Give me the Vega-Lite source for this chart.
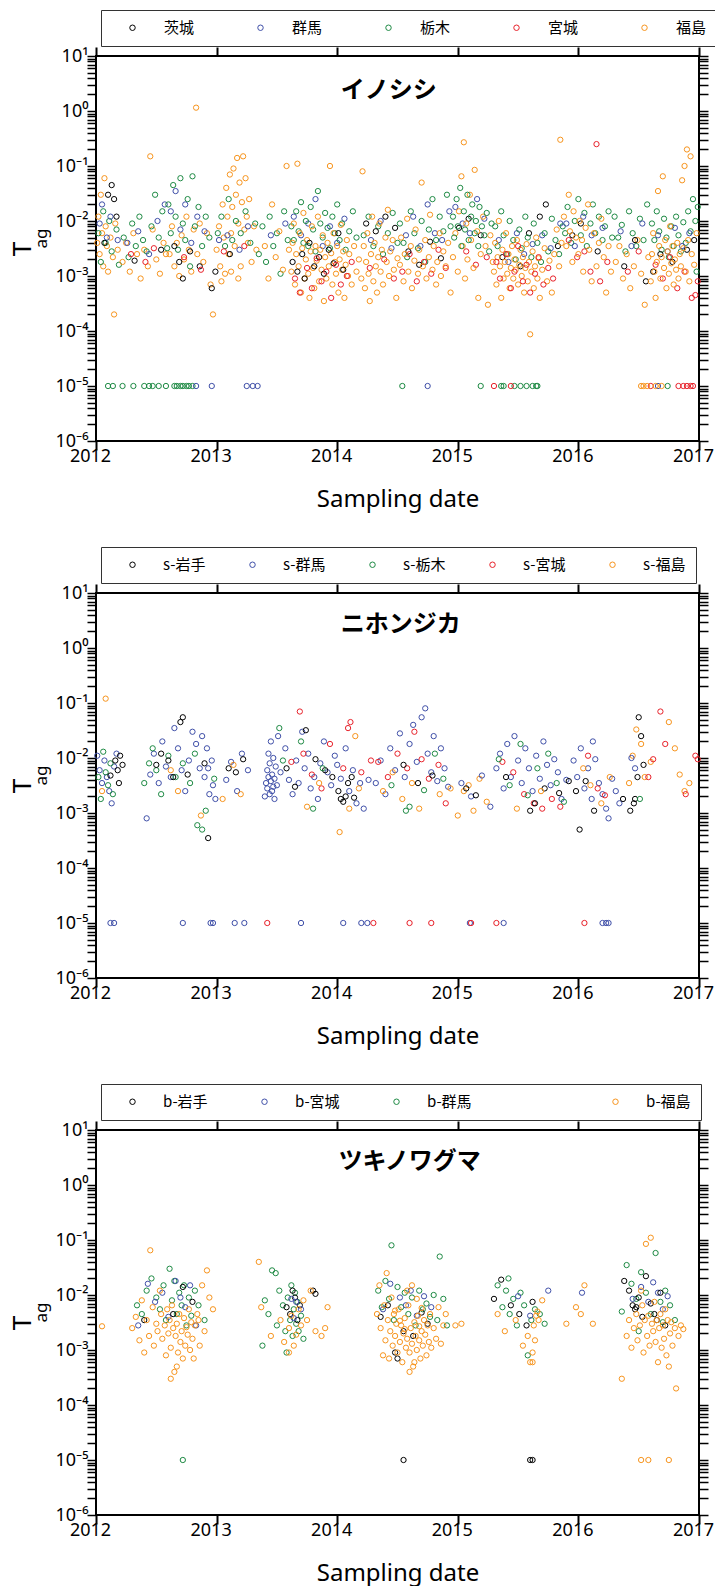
{
"$schema": "https://vega.github.io/schema/vega-lite/v6.json",
"background": "white",
"padding": {"left": 8, "top": 8, "right": 5, "bottom": 5},
"spacing": 33,
"resolve": {"scale": {"color": "independent"}, "legend": {"color": "independent"}},
"config": {
 "view": {"stroke": "black", "strokeWidth": 2},
 "axis": {"domain": false, "grid": false, "tickColor": "black", "labelColor": "black", "labelFont": "Noto Sans", "labelFontSize": 18, "titleFont": "Noto Sans", "titleFontWeight": "normal", "titleColor": "black"},
 "point": {"filled": false, "size": 28, "strokeWidth": 1, "opacity": 1}
},
"datasets": {
"p1": [
{"t":2012.01,"v":0.004,"s":"福島"},{"t":2012.02,"v":0.012,"s":"福島"},{"t":2012.03,"v":0.0025,"s":"福島"},{"t":2012.04,"v":0.03,"s":"福島"},{"t":2012.05,"v":0.006,"s":"福島"},{"t":2012.06,"v":0.0015,"s":"福島"},{"t":2012.07,"v":0.06,"s":"福島"},{"t":2012.08,"v":0.008,"s":"福島"},{"t":2012.09,"v":0.0035,"s":"福島"},{"t":2012.1,"v":0.0012,"s":"福島"},{"t":2012.12,"v":0.005,"s":"福島"},{"t":2012.14,"v":0.0022,"s":"福島"},{"t":2012.16,"v":0.009,"s":"福島"},{"t":2012.18,"v":0.003,"s":"福島"},{"t":2012.15,"v":0.0002,"s":"福島"},
{"t":2012.02,"v":0.006,"s":"栃木"},{"t":2012.04,"v":0.0018,"s":"栃木"},{"t":2012.06,"v":0.015,"s":"栃木"},{"t":2012.08,"v":0.004,"s":"栃木"},{"t":2012.11,"v":0.01,"s":"栃木"},{"t":2012.13,"v":0.0028,"s":"栃木"},{"t":2012.17,"v":0.007,"s":"栃木"},{"t":2012.19,"v":0.0016,"s":"栃木"},
{"t":2012.03,"v":0.009,"s":"群馬"},{"t":2012.05,"v":0.02,"s":"群馬"},{"t":2012.09,"v":0.005,"s":"群馬"},{"t":2012.12,"v":0.012,"s":"群馬"},{"t":2012.18,"v":0.0045,"s":"群馬"},
{"t":2012.1,"v":0.03,"s":"茨城"},{"t":2012.13,"v":0.045,"s":"茨城"},{"t":2012.15,"v":0.025,"s":"茨城"},{"t":2012.17,"v":0.012,"s":"茨城"},{"t":2012.07,"v":0.004,"s":"茨城"},
{"t":2012.22,"v":0.0018,"s":"福島"},{"t":2012.25,"v":0.004,"s":"福島"},{"t":2012.28,"v":0.0012,"s":"福島"},{"t":2012.31,"v":0.006,"s":"福島"},{"t":2012.34,"v":0.0025,"s":"福島"},{"t":2012.37,"v":0.0009,"s":"福島"},{"t":2012.4,"v":0.003,"s":"福島"},{"t":2012.43,"v":0.0015,"s":"福島"},{"t":2012.45,"v":0.15,"s":"福島"},{"t":2012.47,"v":0.007,"s":"福島"},{"t":2012.5,"v":0.002,"s":"福島"},{"t":2012.53,"v":0.0011,"s":"福島"},{"t":2012.56,"v":0.004,"s":"福島"},{"t":2012.58,"v":0.0025,"s":"福島"},
{"t":2012.23,"v":0.005,"s":"栃木"},{"t":2012.27,"v":0.0022,"s":"栃木"},{"t":2012.3,"v":0.009,"s":"栃木"},{"t":2012.33,"v":0.0035,"s":"栃木"},{"t":2012.36,"v":0.012,"s":"栃木"},{"t":2012.39,"v":0.0045,"s":"栃木"},{"t":2012.42,"v":0.0028,"s":"栃木"},{"t":2012.46,"v":0.008,"s":"栃木"},{"t":2012.49,"v":0.03,"s":"栃木"},{"t":2012.52,"v":0.005,"s":"栃木"},{"t":2012.55,"v":0.015,"s":"栃木"},{"t":2012.59,"v":0.0032,"s":"栃木"},
{"t":2012.26,"v":0.004,"s":"群馬"},{"t":2012.35,"v":0.0065,"s":"群馬"},{"t":2012.44,"v":0.0025,"s":"群馬"},{"t":2012.51,"v":0.01,"s":"群馬"},{"t":2012.57,"v":0.02,"s":"群馬"},
{"t":2012.29,"v":0.0025,"s":"宮城"},{"t":2012.41,"v":0.0018,"s":"宮城"},{"t":2012.48,"v":0.0032,"s":"宮城"},
{"t":2012.32,"v":0.0019,"s":"茨城"},{"t":2012.54,"v":0.003,"s":"茨城"},
{"t":2012.61,"v":0.0025,"s":"福島"},{"t":2012.63,"v":0.008,"s":"福島"},{"t":2012.65,"v":0.0015,"s":"福島"},{"t":2012.67,"v":0.004,"s":"福島"},{"t":2012.69,"v":0.001,"s":"福島"},{"t":2012.71,"v":0.0055,"s":"福島"},{"t":2012.73,"v":0.002,"s":"福島"},{"t":2012.75,"v":0.012,"s":"福島"},{"t":2012.77,"v":0.003,"s":"福島"},{"t":2012.79,"v":0.0012,"s":"福島"},{"t":2012.81,"v":0.007,"s":"福島"},{"t":2012.83,"v":1.15,"s":"福島"},{"t":2012.84,"v":0.0025,"s":"福島"},{"t":2012.86,"v":0.009,"s":"福島"},{"t":2012.89,"v":0.0018,"s":"福島"},{"t":2012.92,"v":0.006,"s":"福島"},{"t":2012.95,"v":0.0007,"s":"福島"},{"t":2012.97,"v":0.0002,"s":"福島"},
{"t":2012.6,"v":0.02,"s":"栃木"},{"t":2012.62,"v":0.006,"s":"栃木"},{"t":2012.64,"v":0.045,"s":"栃木"},{"t":2012.66,"v":0.012,"s":"栃木"},{"t":2012.68,"v":0.003,"s":"栃木"},{"t":2012.7,"v":0.06,"s":"栃木"},{"t":2012.72,"v":0.009,"s":"栃木"},{"t":2012.74,"v":0.0045,"s":"栃木"},{"t":2012.76,"v":0.025,"s":"栃木"},{"t":2012.78,"v":0.0015,"s":"栃木"},{"t":2012.8,"v":0.065,"s":"栃木"},{"t":2012.82,"v":0.008,"s":"栃木"},{"t":2012.85,"v":0.018,"s":"栃木"},{"t":2012.88,"v":0.0035,"s":"栃木"},{"t":2012.91,"v":0.012,"s":"栃木"},{"t":2012.94,"v":0.005,"s":"栃木"},
{"t":2012.62,"v":0.015,"s":"群馬"},{"t":2012.66,"v":0.035,"s":"群馬"},{"t":2012.7,"v":0.007,"s":"群馬"},{"t":2012.74,"v":0.02,"s":"群馬"},{"t":2012.79,"v":0.004,"s":"群馬"},{"t":2012.84,"v":0.012,"s":"群馬"},{"t":2012.9,"v":0.0065,"s":"群馬"},
{"t":2012.65,"v":0.0035,"s":"茨城"},{"t":2012.69,"v":0.0018,"s":"茨城"},{"t":2012.72,"v":0.0009,"s":"茨城"},{"t":2012.78,"v":0.0028,"s":"茨城"},{"t":2012.86,"v":0.0015,"s":"茨城"},{"t":2012.96,"v":0.0006,"s":"茨城"},
{"t":2012.73,"v":0.0022,"s":"宮城"},{"t":2012.87,"v":0.0013,"s":"宮城"},
{"t":2013.0,"v":0.003,"s":"福島"},{"t":2013.02,"v":0.008,"s":"福島"},{"t":2013.03,"v":0.0015,"s":"福島"},{"t":2013.05,"v":0.02,"s":"福島"},{"t":2013.06,"v":0.005,"s":"福島"},{"t":2013.07,"v":0.0011,"s":"福島"},{"t":2013.08,"v":0.04,"s":"福島"},{"t":2013.09,"v":0.012,"s":"福島"},{"t":2013.1,"v":0.0025,"s":"福島"},{"t":2013.11,"v":0.07,"s":"福島"},{"t":2013.12,"v":0.006,"s":"福島"},{"t":2013.13,"v":0.018,"s":"福島"},{"t":2013.14,"v":0.09,"s":"福島"},{"t":2013.15,"v":0.0035,"s":"福島"},{"t":2013.16,"v":0.03,"s":"福島"},{"t":2013.17,"v":0.14,"s":"福島"},{"t":2013.18,"v":0.009,"s":"福島"},{"t":2013.19,"v":0.05,"s":"福島"},{"t":2013.2,"v":0.0015,"s":"福島"},{"t":2013.21,"v":0.022,"s":"福島"},{"t":2013.22,"v":0.15,"s":"福島"},{"t":2013.23,"v":0.007,"s":"福島"},{"t":2013.24,"v":0.06,"s":"福島"},{"t":2013.25,"v":0.012,"s":"福島"},{"t":2013.26,"v":0.004,"s":"福島"},{"t":2013.27,"v":0.025,"s":"福島"},{"t":2013.29,"v":0.0018,"s":"福島"},{"t":2013.31,"v":0.008,"s":"福島"},{"t":2013.33,"v":0.003,"s":"福島"},{"t":2013.04,"v":0.0008,"s":"福島"},{"t":2013.12,"v":0.0012,"s":"福島"},{"t":2013.18,"v":0.0009,"s":"福島"},
{"t":2013.01,"v":0.006,"s":"栃木"},{"t":2013.04,"v":0.012,"s":"栃木"},{"t":2013.07,"v":0.0035,"s":"栃木"},{"t":2013.1,"v":0.025,"s":"栃木"},{"t":2013.13,"v":0.0045,"s":"栃木"},{"t":2013.16,"v":0.01,"s":"栃木"},{"t":2013.2,"v":0.006,"s":"栃木"},{"t":2013.24,"v":0.015,"s":"栃木"},{"t":2013.28,"v":0.004,"s":"栃木"},{"t":2013.32,"v":0.009,"s":"栃木"},{"t":2013.35,"v":0.0025,"s":"栃木"},
{"t":2013.02,"v":0.0045,"s":"群馬"},{"t":2013.09,"v":0.0055,"s":"群馬"},{"t":2013.19,"v":0.003,"s":"群馬"},{"t":2013.26,"v":0.008,"s":"群馬"},
{"t":2013.06,"v":0.0028,"s":"宮城"},{"t":2013.23,"v":0.0035,"s":"宮城"},
{"t":2012.99,"v":0.0012,"s":"茨城"},{"t":2013.11,"v":0.0025,"s":"茨城"},
{"t":2013.38,"v":0.008,"s":"栃木"},{"t":2013.41,"v":0.0018,"s":"栃木"},{"t":2013.44,"v":0.012,"s":"栃木"},{"t":2013.47,"v":0.0035,"s":"栃木"},{"t":2013.5,"v":0.006,"s":"栃木"},{"t":2013.53,"v":0.0011,"s":"栃木"},{"t":2013.56,"v":0.015,"s":"栃木"},{"t":2013.59,"v":0.0045,"s":"栃木"},
{"t":2013.4,"v":0.0035,"s":"福島"},{"t":2013.43,"v":0.0009,"s":"福島"},{"t":2013.46,"v":0.02,"s":"福島"},{"t":2013.49,"v":0.0022,"s":"福島"},{"t":2013.52,"v":0.0065,"s":"福島"},{"t":2013.55,"v":0.0013,"s":"福島"},{"t":2013.58,"v":0.1,"s":"福島"},{"t":2013.6,"v":0.003,"s":"福島"},
{"t":2013.45,"v":0.0055,"s":"群馬"},{"t":2013.57,"v":0.009,"s":"群馬"},
{"t":2013.64,"v":0.012,"s":"群馬"},{"t":2013.7,"v":0.0055,"s":"群馬"},{"t":2013.76,"v":0.009,"s":"群馬"},{"t":2013.82,"v":0.025,"s":"群馬"},{"t":2013.88,"v":0.0035,"s":"群馬"},{"t":2013.94,"v":0.008,"s":"群馬"},{"t":2014.0,"v":0.004,"s":"群馬"},{"t":2014.06,"v":0.011,"s":"群馬"},
{"t":2013.62,"v":0.008,"s":"栃木"},{"t":2013.64,"v":0.0045,"s":"栃木"},{"t":2013.66,"v":0.015,"s":"栃木"},{"t":2013.68,"v":0.0065,"s":"栃木"},{"t":2013.7,"v":0.022,"s":"栃木"},{"t":2013.72,"v":0.004,"s":"栃木"},{"t":2013.74,"v":0.01,"s":"栃木"},{"t":2013.76,"v":0.0035,"s":"栃木"},{"t":2013.78,"v":0.018,"s":"栃木"},{"t":2013.8,"v":0.007,"s":"栃木"},{"t":2013.82,"v":0.0028,"s":"栃木"},{"t":2013.84,"v":0.035,"s":"栃木"},{"t":2013.86,"v":0.009,"s":"栃木"},{"t":2013.88,"v":0.005,"s":"栃木"},{"t":2013.9,"v":0.014,"s":"栃木"},{"t":2013.92,"v":0.0075,"s":"栃木"},{"t":2013.94,"v":0.0032,"s":"栃木"},{"t":2013.96,"v":0.012,"s":"栃木"},{"t":2013.98,"v":0.006,"s":"栃木"},{"t":2014.0,"v":0.02,"s":"栃木"},{"t":2014.02,"v":0.0045,"s":"栃木"},{"t":2014.04,"v":0.009,"s":"栃木"},{"t":2014.07,"v":0.003,"s":"栃木"},{"t":2014.1,"v":0.0065,"s":"栃木"},{"t":2014.13,"v":0.015,"s":"栃木"},{"t":2014.16,"v":0.005,"s":"栃木"},
{"t":2013.62,"v":0.0012,"s":"福島"},{"t":2013.63,"v":0.004,"s":"福島"},{"t":2013.64,"v":0.009,"s":"福島"},{"t":2013.65,"v":0.0007,"s":"福島"},{"t":2013.66,"v":0.0025,"s":"福島"},{"t":2013.67,"v":0.11,"s":"福島"},{"t":2013.68,"v":0.0015,"s":"福島"},{"t":2013.69,"v":0.006,"s":"福島"},{"t":2013.7,"v":0.0005,"s":"福島"},{"t":2013.71,"v":0.0032,"s":"福島"},{"t":2013.72,"v":0.014,"s":"福島"},{"t":2013.73,"v":0.0009,"s":"福島"},{"t":2013.74,"v":0.002,"s":"福島"},{"t":2013.75,"v":0.0045,"s":"福島"},{"t":2013.76,"v":0.0011,"s":"福島"},{"t":2013.77,"v":0.0004,"s":"福島"},{"t":2013.78,"v":0.0028,"s":"福島"},{"t":2013.79,"v":0.008,"s":"福島"},{"t":2013.8,"v":0.0014,"s":"福島"},{"t":2013.81,"v":0.0006,"s":"福島"},{"t":2013.82,"v":0.0035,"s":"福島"},{"t":2013.83,"v":0.0019,"s":"福島"},{"t":2013.84,"v":0.012,"s":"福島"},{"t":2013.85,"v":0.0008,"s":"福島"},{"t":2013.86,"v":0.003,"s":"福島"},{"t":2013.87,"v":0.0013,"s":"福島"},{"t":2013.88,"v":0.0055,"s":"福島"},{"t":2013.89,"v":0.00035,"s":"福島"},{"t":2013.9,"v":0.0022,"s":"福島"},{"t":2013.91,"v":0.0009,"s":"福島"},{"t":2013.92,"v":0.004,"s":"福島"},{"t":2013.93,"v":0.0015,"s":"福島"},{"t":2013.94,"v":0.1,"s":"福島"},{"t":2013.95,"v":0.0026,"s":"福島"},{"t":2013.96,"v":0.0007,"s":"福島"},{"t":2013.97,"v":0.006,"s":"福島"},{"t":2013.98,"v":0.0018,"s":"福島"},{"t":2013.99,"v":0.0011,"s":"福島"},{"t":2014.0,"v":0.0035,"s":"福島"},{"t":2014.01,"v":0.0005,"s":"福島"},{"t":2014.02,"v":0.002,"s":"福島"},{"t":2014.03,"v":0.0085,"s":"福島"},{"t":2014.04,"v":0.0013,"s":"福島"},{"t":2014.05,"v":0.0028,"s":"福島"},{"t":2014.06,"v":0.0004,"s":"福島"},{"t":2014.07,"v":0.0016,"s":"福島"},{"t":2014.08,"v":0.0045,"s":"福島"},{"t":2014.09,"v":0.001,"s":"福島"},{"t":2014.1,"v":0.0025,"s":"福島"},{"t":2014.12,"v":0.0007,"s":"福島"},{"t":2014.14,"v":0.0035,"s":"福島"},{"t":2014.16,"v":0.0012,"s":"福島"},{"t":2014.18,"v":0.002,"s":"福島"},
{"t":2013.63,"v":0.0018,"s":"茨城"},{"t":2013.67,"v":0.0012,"s":"茨城"},{"t":2013.71,"v":0.0025,"s":"茨城"},{"t":2013.73,"v":0.0009,"s":"茨城"},{"t":2013.77,"v":0.004,"s":"茨城"},{"t":2013.81,"v":0.0015,"s":"茨城"},{"t":2013.85,"v":0.0022,"s":"茨城"},{"t":2013.89,"v":0.0011,"s":"茨城"},{"t":2013.93,"v":0.003,"s":"茨城"},{"t":2013.97,"v":0.0017,"s":"茨城"},{"t":2014.01,"v":0.006,"s":"茨城"},{"t":2014.05,"v":0.0013,"s":"茨城"},
{"t":2013.65,"v":0.0009,"s":"宮城"},{"t":2013.69,"v":0.0005,"s":"宮城"},{"t":2013.75,"v":0.0014,"s":"宮城"},{"t":2013.79,"v":0.0006,"s":"宮城"},{"t":2013.83,"v":0.0021,"s":"宮城"},{"t":2013.87,"v":0.0008,"s":"宮城"},{"t":2013.91,"v":0.0012,"s":"宮城"},{"t":2013.95,"v":0.0004,"s":"宮城"},{"t":2013.99,"v":0.0016,"s":"宮城"},{"t":2014.03,"v":0.0007,"s":"宮城"},{"t":2014.08,"v":0.001,"s":"宮城"},{"t":2014.12,"v":0.0018,"s":"宮城"},
{"t":2014.22,"v":0.0055,"s":"栃木"},{"t":2014.26,"v":0.012,"s":"栃木"},{"t":2014.3,"v":0.0035,"s":"栃木"},{"t":2014.34,"v":0.008,"s":"栃木"},{"t":2014.38,"v":0.0025,"s":"栃木"},{"t":2014.42,"v":0.006,"s":"栃木"},{"t":2014.46,"v":0.014,"s":"栃木"},{"t":2014.5,"v":0.004,"s":"栃木"},
{"t":2014.24,"v":0.009,"s":"茨城"},{"t":2014.32,"v":0.0065,"s":"茨城"},{"t":2014.4,"v":0.012,"s":"茨城"},{"t":2014.48,"v":0.0075,"s":"茨城"},
{"t":2014.28,"v":0.0045,"s":"群馬"},{"t":2014.36,"v":0.01,"s":"群馬"},{"t":2014.45,"v":0.0032,"s":"群馬"},
{"t":2014.27,"v":0.0014,"s":"宮城"},{"t":2014.39,"v":0.002,"s":"宮城"},{"t":2014.47,"v":0.0009,"s":"宮城"},
{"t":2014.2,"v":0.0009,"s":"福島"},{"t":2014.21,"v":0.08,"s":"福島"},{"t":2014.22,"v":0.0035,"s":"福島"},{"t":2014.23,"v":0.0006,"s":"福島"},{"t":2014.24,"v":0.0018,"s":"福島"},{"t":2014.25,"v":0.006,"s":"福島"},{"t":2014.26,"v":0.0011,"s":"福島"},{"t":2014.27,"v":0.00035,"s":"福島"},{"t":2014.28,"v":0.0025,"s":"福島"},{"t":2014.29,"v":0.012,"s":"福島"},{"t":2014.3,"v":0.0008,"s":"福島"},{"t":2014.31,"v":0.004,"s":"福島"},{"t":2014.32,"v":0.0015,"s":"福島"},{"t":2014.33,"v":0.0005,"s":"福島"},{"t":2014.34,"v":0.0022,"s":"福島"},{"t":2014.35,"v":0.009,"s":"福島"},{"t":2014.36,"v":0.0012,"s":"福島"},{"t":2014.37,"v":0.003,"s":"福島"},{"t":2014.38,"v":0.0007,"s":"福島"},{"t":2014.4,"v":0.005,"s":"福島"},{"t":2014.41,"v":0.0018,"s":"福島"},{"t":2014.42,"v":0.016,"s":"福島"},{"t":2014.43,"v":0.001,"s":"福島"},{"t":2014.44,"v":0.0028,"s":"福島"},{"t":2014.46,"v":0.0045,"s":"福島"},{"t":2014.47,"v":0.0013,"s":"福島"},{"t":2014.49,"v":0.0004,"s":"福島"},{"t":2014.5,"v":0.0021,"s":"福島"},
{"t":2014.52,"v":0.009,"s":"栃木"},{"t":2014.55,"v":0.004,"s":"栃木"},{"t":2014.58,"v":0.0022,"s":"栃木"},{"t":2014.61,"v":0.015,"s":"栃木"},{"t":2014.64,"v":0.006,"s":"栃木"},{"t":2014.67,"v":0.0032,"s":"栃木"},{"t":2014.7,"v":0.01,"s":"栃木"},{"t":2014.73,"v":0.0018,"s":"栃木"},{"t":2014.76,"v":0.007,"s":"栃木"},{"t":2014.79,"v":0.025,"s":"栃木"},{"t":2014.82,"v":0.0045,"s":"栃木"},{"t":2014.85,"v":0.012,"s":"栃木"},{"t":2014.88,"v":0.0065,"s":"栃木"},{"t":2014.91,"v":0.03,"s":"栃木"},{"t":2014.94,"v":0.008,"s":"栃木"},
{"t":2014.54,"v":0.0012,"s":"宮城"},{"t":2014.6,"v":0.0025,"s":"宮城"},{"t":2014.66,"v":0.0008,"s":"宮城"},{"t":2014.72,"v":0.0018,"s":"宮城"},{"t":2014.78,"v":0.0011,"s":"宮城"},{"t":2014.84,"v":0.003,"s":"宮城"},{"t":2014.9,"v":0.0014,"s":"宮城"},
{"t":2014.57,"v":0.0055,"s":"群馬"},{"t":2014.63,"v":0.012,"s":"群馬"},{"t":2014.69,"v":0.0035,"s":"群馬"},{"t":2014.75,"v":0.02,"s":"群馬"},{"t":2014.81,"v":0.006,"s":"群馬"},{"t":2014.87,"v":0.0045,"s":"群馬"},{"t":2014.93,"v":0.015,"s":"群馬"},
{"t":2014.59,"v":0.0028,"s":"茨城"},{"t":2014.68,"v":0.0016,"s":"茨城"},{"t":2014.77,"v":0.0042,"s":"茨城"},{"t":2014.86,"v":0.0021,"s":"茨城"},
{"t":2014.52,"v":0.0016,"s":"福島"},{"t":2014.53,"v":0.005,"s":"福島"},{"t":2014.55,"v":0.0008,"s":"福島"},{"t":2014.56,"v":0.0025,"s":"福島"},{"t":2014.58,"v":0.011,"s":"福島"},{"t":2014.59,"v":0.0012,"s":"福島"},{"t":2014.61,"v":0.0035,"s":"福島"},{"t":2014.62,"v":0.0006,"s":"福島"},{"t":2014.64,"v":0.0019,"s":"福島"},{"t":2014.65,"v":0.007,"s":"福島"},{"t":2014.67,"v":0.0011,"s":"福島"},{"t":2014.68,"v":0.003,"s":"福島"},{"t":2014.7,"v":0.05,"s":"福島"},{"t":2014.71,"v":0.0015,"s":"福島"},{"t":2014.73,"v":0.0045,"s":"福島"},{"t":2014.74,"v":0.0009,"s":"福島"},{"t":2014.76,"v":0.0022,"s":"福島"},{"t":2014.77,"v":0.013,"s":"福島"},{"t":2014.79,"v":0.0013,"s":"福島"},{"t":2014.8,"v":0.0035,"s":"福島"},{"t":2014.82,"v":0.0007,"s":"福島"},{"t":2014.83,"v":0.0018,"s":"福島"},{"t":2014.85,"v":0.006,"s":"福島"},{"t":2014.86,"v":0.001,"s":"福島"},{"t":2014.88,"v":0.0028,"s":"福島"},{"t":2014.9,"v":0.0015,"s":"福島"},{"t":2014.92,"v":0.004,"s":"福島"},{"t":2014.94,"v":0.0005,"s":"福島"},
{"t":2014.98,"v":0.018,"s":"群馬"},{"t":2015.04,"v":0.009,"s":"群馬"},{"t":2015.1,"v":0.006,"s":"群馬"},{"t":2015.16,"v":0.025,"s":"群馬"},{"t":2015.22,"v":0.011,"s":"群馬"},
{"t":2015.01,"v":0.0075,"s":"茨城"},{"t":2015.09,"v":0.011,"s":"茨城"},{"t":2015.19,"v":0.0055,"s":"茨城"},
{"t":2015.07,"v":0.0028,"s":"宮城"},{"t":2015.15,"v":0.0016,"s":"宮城"},{"t":2015.24,"v":0.0022,"s":"宮城"},
{"t":2014.96,"v":0.0022,"s":"福島"},{"t":2014.98,"v":0.006,"s":"福島"},{"t":2015.0,"v":0.0012,"s":"福島"},{"t":2015.01,"v":0.015,"s":"福島"},{"t":2015.03,"v":0.065,"s":"福島"},{"t":2015.04,"v":0.0035,"s":"福島"},{"t":2015.05,"v":0.27,"s":"福島"},{"t":2015.06,"v":0.0009,"s":"福島"},{"t":2015.07,"v":0.009,"s":"福島"},{"t":2015.08,"v":0.002,"s":"福島"},{"t":2015.1,"v":0.03,"s":"福島"},{"t":2015.11,"v":0.0045,"s":"福島"},{"t":2015.13,"v":0.0014,"s":"福島"},{"t":2015.14,"v":0.085,"s":"福島"},{"t":2015.16,"v":0.0065,"s":"福島"},{"t":2015.17,"v":0.0004,"s":"福島"},{"t":2015.19,"v":0.0025,"s":"福島"},{"t":2015.21,"v":0.012,"s":"福島"},{"t":2015.23,"v":0.0035,"s":"福島"},{"t":2015.25,"v":0.0003,"s":"福島"},{"t":2015.27,"v":0.0055,"s":"福島"},{"t":2015.29,"v":0.0018,"s":"福島"},
{"t":2014.96,"v":0.012,"s":"栃木"},{"t":2014.97,"v":0.005,"s":"栃木"},{"t":2014.99,"v":0.025,"s":"栃木"},{"t":2015.0,"v":0.008,"s":"栃木"},{"t":2015.02,"v":0.04,"s":"栃木"},{"t":2015.03,"v":0.0035,"s":"栃木"},{"t":2015.05,"v":0.015,"s":"栃木"},{"t":2015.06,"v":0.007,"s":"栃木"},{"t":2015.08,"v":0.03,"s":"栃木"},{"t":2015.09,"v":0.0045,"s":"栃木"},{"t":2015.11,"v":0.012,"s":"栃木"},{"t":2015.12,"v":0.02,"s":"栃木"},{"t":2015.14,"v":0.006,"s":"栃木"},{"t":2015.15,"v":0.01,"s":"栃木"},{"t":2015.17,"v":0.0035,"s":"栃木"},{"t":2015.18,"v":0.018,"s":"栃木"},{"t":2015.2,"v":0.008,"s":"栃木"},{"t":2015.22,"v":0.0055,"s":"栃木"},{"t":2015.24,"v":0.014,"s":"栃木"},{"t":2015.26,"v":0.0028,"s":"栃木"},{"t":2015.28,"v":0.009,"s":"栃木"},
{"t":2015.34,"v":0.0045,"s":"群馬"},{"t":2015.42,"v":0.0018,"s":"群馬"},{"t":2015.49,"v":0.006,"s":"群馬"},{"t":2015.55,"v":0.0025,"s":"群馬"},{"t":2015.62,"v":0.0038,"s":"群馬"},{"t":2015.7,"v":0.0055,"s":"群馬"},{"t":2015.77,"v":0.0032,"s":"群馬"},{"t":2015.85,"v":0.009,"s":"群馬"},
{"t":2015.37,"v":0.0022,"s":"茨城"},{"t":2015.52,"v":0.0015,"s":"茨城"},{"t":2015.59,"v":0.006,"s":"茨城"},{"t":2015.68,"v":0.012,"s":"茨城"},{"t":2015.73,"v":0.02,"s":"茨城"},{"t":2015.83,"v":0.0035,"s":"茨城"},
{"t":2015.31,"v":0.008,"s":"栃木"},{"t":2015.33,"v":0.0035,"s":"栃木"},{"t":2015.36,"v":0.015,"s":"栃木"},{"t":2015.38,"v":0.0055,"s":"栃木"},{"t":2015.41,"v":0.0025,"s":"栃木"},{"t":2015.43,"v":0.01,"s":"栃木"},{"t":2015.46,"v":0.0045,"s":"栃木"},{"t":2015.48,"v":0.002,"s":"栃木"},{"t":2015.51,"v":0.007,"s":"栃木"},{"t":2015.53,"v":0.0032,"s":"栃木"},{"t":2015.56,"v":0.012,"s":"栃木"},{"t":2015.58,"v":0.005,"s":"栃木"},{"t":2015.61,"v":0.0022,"s":"栃木"},{"t":2015.63,"v":0.009,"s":"栃木"},{"t":2015.66,"v":0.004,"s":"栃木"},{"t":2015.69,"v":0.0018,"s":"栃木"},{"t":2015.72,"v":0.006,"s":"栃木"},{"t":2015.75,"v":0.0028,"s":"栃木"},{"t":2015.78,"v":0.011,"s":"栃木"},{"t":2015.81,"v":0.0045,"s":"栃木"},{"t":2015.84,"v":0.0025,"s":"栃木"},{"t":2015.87,"v":0.008,"s":"栃木"},
{"t":2015.3,"v":0.0012,"s":"福島"},{"t":2015.31,"v":0.004,"s":"福島"},{"t":2015.32,"v":0.0007,"s":"福島"},{"t":2015.33,"v":0.0022,"s":"福島"},{"t":2015.34,"v":0.01,"s":"福島"},{"t":2015.35,"v":0.0015,"s":"福島"},{"t":2015.36,"v":0.0004,"s":"福島"},{"t":2015.37,"v":0.003,"s":"福島"},{"t":2015.38,"v":0.0009,"s":"福島"},{"t":2015.39,"v":0.0018,"s":"福島"},{"t":2015.4,"v":0.006,"s":"福島"},{"t":2015.41,"v":0.0011,"s":"福島"},{"t":2015.42,"v":0.0025,"s":"福島"},{"t":2015.43,"v":0.0006,"s":"福島"},{"t":2015.44,"v":0.0014,"s":"福島"},{"t":2015.45,"v":0.0035,"s":"福島"},{"t":2015.46,"v":0.0009,"s":"福島"},{"t":2015.47,"v":0.002,"s":"福島"},{"t":2015.48,"v":0.0013,"s":"福島"},{"t":2015.49,"v":0.0045,"s":"福島"},{"t":2015.5,"v":0.0007,"s":"福島"},{"t":2015.51,"v":0.0016,"s":"福島"},{"t":2015.52,"v":0.003,"s":"福島"},{"t":2015.53,"v":0.001,"s":"福島"},{"t":2015.54,"v":0.0022,"s":"福島"},{"t":2015.55,"v":0.0005,"s":"福島"},{"t":2015.56,"v":0.0014,"s":"福島"},{"t":2015.57,"v":0.0038,"s":"福島"},{"t":2015.58,"v":0.0008,"s":"福島"},{"t":2015.59,"v":0.0018,"s":"福島"},{"t":2015.6,"v":0.000087,"s":"福島"},{"t":2015.61,"v":0.0012,"s":"福島"},{"t":2015.62,"v":0.0028,"s":"福島"},{"t":2015.63,"v":0.0006,"s":"福島"},{"t":2015.64,"v":0.0015,"s":"福島"},{"t":2015.65,"v":0.005,"s":"福島"},{"t":2015.66,"v":0.0009,"s":"福島"},{"t":2015.67,"v":0.0021,"s":"福島"},{"t":2015.68,"v":0.0004,"s":"福島"},{"t":2015.7,"v":0.0013,"s":"福島"},{"t":2015.72,"v":0.0032,"s":"福島"},{"t":2015.74,"v":0.0008,"s":"福島"},{"t":2015.76,"v":0.0019,"s":"福島"},{"t":2015.78,"v":0.0005,"s":"福島"},{"t":2015.8,"v":0.0025,"s":"福島"},{"t":2015.82,"v":0.007,"s":"福島"},{"t":2015.84,"v":0.0015,"s":"福島"},{"t":2015.86,"v":0.004,"s":"福島"},
{"t":2015.32,"v":0.0018,"s":"宮城"},{"t":2015.35,"v":0.0009,"s":"宮城"},{"t":2015.4,"v":0.0025,"s":"宮城"},{"t":2015.44,"v":0.0006,"s":"宮城"},{"t":2015.47,"v":0.0012,"s":"宮城"},{"t":2015.5,"v":0.0035,"s":"宮城"},{"t":2015.54,"v":0.0008,"s":"宮城"},{"t":2015.57,"v":0.0016,"s":"宮城"},{"t":2015.6,"v":0.0005,"s":"宮城"},{"t":2015.64,"v":0.0011,"s":"宮城"},{"t":2015.67,"v":0.0022,"s":"宮城"},{"t":2015.71,"v":0.0007,"s":"宮城"},{"t":2015.75,"v":0.0014,"s":"宮城"},{"t":2015.79,"v":0.0009,"s":"宮城"},
{"t":2015.89,"v":0.006,"s":"栃木"},{"t":2015.91,"v":0.018,"s":"栃木"},{"t":2015.94,"v":0.004,"s":"栃木"},{"t":2015.97,"v":0.01,"s":"栃木"},{"t":2016.0,"v":0.025,"s":"栃木"},{"t":2016.02,"v":0.0055,"s":"栃木"},{"t":2016.05,"v":0.014,"s":"栃木"},{"t":2016.07,"v":0.0035,"s":"栃木"},{"t":2016.1,"v":0.009,"s":"栃木"},{"t":2016.12,"v":0.02,"s":"栃木"},{"t":2016.14,"v":0.006,"s":"栃木"},{"t":2016.17,"v":0.012,"s":"栃木"},{"t":2016.2,"v":0.0045,"s":"栃木"},{"t":2016.22,"v":0.008,"s":"栃木"},{"t":2016.25,"v":0.015,"s":"栃木"},{"t":2016.28,"v":0.005,"s":"栃木"},
{"t":2015.92,"v":0.0045,"s":"宮城"},{"t":2015.99,"v":0.0022,"s":"宮城"},{"t":2016.05,"v":0.0028,"s":"宮城"},{"t":2016.1,"v":0.0012,"s":"宮城"},{"t":2016.15,"v":0.25,"s":"宮城"},{"t":2016.18,"v":0.0008,"s":"宮城"},{"t":2016.24,"v":0.0018,"s":"宮城"},
{"t":2015.9,"v":0.009,"s":"群馬"},{"t":2015.97,"v":0.0035,"s":"群馬"},{"t":2016.04,"v":0.012,"s":"群馬"},{"t":2016.11,"v":0.0055,"s":"群馬"},{"t":2016.2,"v":0.0075,"s":"群馬"},
{"t":2015.95,"v":0.0055,"s":"茨城"},{"t":2016.02,"v":0.009,"s":"茨城"},{"t":2016.16,"v":0.0028,"s":"茨城"},
{"t":2015.85,"v":0.3,"s":"福島"},{"t":2015.88,"v":0.012,"s":"福島"},{"t":2015.9,"v":0.0035,"s":"福島"},{"t":2015.92,"v":0.03,"s":"福島"},{"t":2015.93,"v":0.0065,"s":"福島"},{"t":2015.95,"v":0.0018,"s":"福島"},{"t":2015.96,"v":0.015,"s":"福島"},{"t":2015.98,"v":0.005,"s":"福島"},{"t":2016.0,"v":0.0025,"s":"福島"},{"t":2016.01,"v":0.01,"s":"福島"},{"t":2016.03,"v":0.0045,"s":"福島"},{"t":2016.04,"v":0.0012,"s":"福島"},{"t":2016.06,"v":0.0075,"s":"福島"},{"t":2016.08,"v":0.02,"s":"福島"},{"t":2016.09,"v":0.003,"s":"福島"},{"t":2016.11,"v":0.0008,"s":"福島"},{"t":2016.13,"v":0.006,"s":"福島"},{"t":2016.15,"v":0.0015,"s":"福島"},{"t":2016.17,"v":0.004,"s":"福島"},{"t":2016.19,"v":0.011,"s":"福島"},{"t":2016.21,"v":0.0022,"s":"福島"},{"t":2016.23,"v":0.0005,"s":"福島"},{"t":2016.25,"v":0.0035,"s":"福島"},{"t":2016.27,"v":0.0012,"s":"福島"},
{"t":2016.3,"v":0.012,"s":"栃木"},{"t":2016.33,"v":0.005,"s":"栃木"},{"t":2016.36,"v":0.0085,"s":"栃木"},{"t":2016.39,"v":0.0028,"s":"栃木"},{"t":2016.42,"v":0.015,"s":"栃木"},{"t":2016.45,"v":0.006,"s":"栃木"},{"t":2016.48,"v":0.0035,"s":"栃木"},{"t":2016.51,"v":0.011,"s":"栃木"},{"t":2016.54,"v":0.0045,"s":"栃木"},{"t":2016.57,"v":0.02,"s":"栃木"},
{"t":2016.31,"v":0.0018,"s":"福島"},{"t":2016.34,"v":0.0035,"s":"福島"},{"t":2016.37,"v":0.0009,"s":"福島"},{"t":2016.4,"v":0.0025,"s":"福島"},{"t":2016.43,"v":0.0006,"s":"福島"},{"t":2016.46,"v":0.0015,"s":"福島"},{"t":2016.49,"v":0.0045,"s":"福島"},{"t":2016.52,"v":0.0011,"s":"福島"},{"t":2016.55,"v":0.0003,"s":"福島"},{"t":2016.58,"v":0.0022,"s":"福島"},
{"t":2016.35,"v":0.0065,"s":"群馬"},{"t":2016.44,"v":0.0035,"s":"群馬"},{"t":2016.53,"v":0.009,"s":"群馬"},
{"t":2016.38,"v":0.0015,"s":"茨城"},{"t":2016.47,"v":0.0045,"s":"茨城"},{"t":2016.56,"v":0.0008,"s":"茨城"},
{"t":2016.41,"v":0.0012,"s":"宮城"},{"t":2016.5,"v":0.0028,"s":"宮城"},
{"t":2016.61,"v":0.009,"s":"栃木"},{"t":2016.63,"v":0.0045,"s":"栃木"},{"t":2016.65,"v":0.015,"s":"栃木"},{"t":2016.67,"v":0.0065,"s":"栃木"},{"t":2016.69,"v":0.003,"s":"栃木"},{"t":2016.71,"v":0.011,"s":"栃木"},{"t":2016.73,"v":0.005,"s":"栃木"},{"t":2016.75,"v":0.0022,"s":"栃木"},{"t":2016.77,"v":0.008,"s":"栃木"},{"t":2016.79,"v":0.0035,"s":"栃木"},{"t":2016.81,"v":0.012,"s":"栃木"},{"t":2016.83,"v":0.0055,"s":"栃木"},{"t":2016.85,"v":0.0028,"s":"栃木"},{"t":2016.87,"v":0.0095,"s":"栃木"},{"t":2016.89,"v":0.004,"s":"栃木"},{"t":2016.91,"v":0.015,"s":"栃木"},{"t":2016.93,"v":0.0065,"s":"栃木"},{"t":2016.95,"v":0.025,"s":"栃木"},{"t":2016.97,"v":0.01,"s":"栃木"},{"t":2016.99,"v":0.018,"s":"栃木"},{"t":2016.98,"v":0.0012,"s":"栃木"},
{"t":2016.64,"v":0.0016,"s":"宮城"},{"t":2016.7,"v":0.0009,"s":"宮城"},{"t":2016.76,"v":0.0022,"s":"宮城"},{"t":2016.82,"v":0.0006,"s":"宮城"},{"t":2016.88,"v":0.0012,"s":"宮城"},{"t":2016.94,"v":0.0004,"s":"宮城"},{"t":2016.97,"v":0.00045,"s":"宮城"},{"t":2016.99,"v":0.0008,"s":"宮城"},
{"t":2016.66,"v":0.0055,"s":"群馬"},{"t":2016.74,"v":0.0028,"s":"群馬"},{"t":2016.8,"v":0.0075,"s":"群馬"},{"t":2016.86,"v":0.0035,"s":"群馬"},{"t":2016.92,"v":0.006,"s":"群馬"},
{"t":2016.62,"v":0.0012,"s":"茨城"},{"t":2016.68,"v":0.0025,"s":"茨城"},{"t":2016.78,"v":0.0018,"s":"茨城"},{"t":2016.9,"v":0.003,"s":"茨城"},{"t":2016.96,"v":0.0045,"s":"茨城"},
{"t":2016.6,"v":0.0008,"s":"福島"},{"t":2016.61,"v":0.0025,"s":"福島"},{"t":2016.62,"v":0.006,"s":"福島"},{"t":2016.63,"v":0.0012,"s":"福島"},{"t":2016.64,"v":0.0004,"s":"福島"},{"t":2016.65,"v":0.0018,"s":"福島"},{"t":2016.66,"v":0.035,"s":"福島"},{"t":2016.67,"v":0.0035,"s":"福島"},{"t":2016.68,"v":0.0009,"s":"福島"},{"t":2016.69,"v":0.0022,"s":"福島"},{"t":2016.7,"v":0.065,"s":"福島"},{"t":2016.71,"v":0.0014,"s":"福島"},{"t":2016.72,"v":0.0045,"s":"福島"},{"t":2016.73,"v":0.0006,"s":"福島"},{"t":2016.74,"v":0.0028,"s":"福島"},{"t":2016.75,"v":0.0011,"s":"福島"},{"t":2016.76,"v":0.008,"s":"福島"},{"t":2016.77,"v":0.0017,"s":"福島"},{"t":2016.78,"v":0.0035,"s":"福島"},{"t":2016.79,"v":0.0007,"s":"福島"},{"t":2016.8,"v":0.002,"s":"福島"},{"t":2016.81,"v":0.0013,"s":"福島"},{"t":2016.82,"v":0.004,"s":"福島"},{"t":2016.83,"v":0.0009,"s":"福島"},{"t":2016.84,"v":0.0025,"s":"福島"},{"t":2016.85,"v":0.0015,"s":"福島"},{"t":2016.86,"v":0.055,"s":"福島"},{"t":2016.87,"v":0.0032,"s":"福島"},{"t":2016.88,"v":0.1,"s":"福島"},{"t":2016.89,"v":0.0012,"s":"福島"},{"t":2016.9,"v":0.2,"s":"福島"},{"t":2016.91,"v":0.0045,"s":"福島"},{"t":2016.92,"v":0.0008,"s":"福島"},{"t":2016.93,"v":0.15,"s":"福島"},{"t":2016.94,"v":0.0025,"s":"福島"},{"t":2016.96,"v":0.0016,"s":"福島"},{"t":2016.98,"v":0.006,"s":"福島"},
{"t":2012.1,"v":1e-5,"s":"栃木"},{"t":2012.14,"v":1e-5,"s":"栃木"},{"t":2012.22,"v":1e-5,"s":"栃木"},{"t":2012.31,"v":1e-5,"s":"栃木"},{"t":2012.4,"v":1e-5,"s":"栃木"},{"t":2012.44,"v":1e-5,"s":"栃木"},{"t":2012.47,"v":1e-5,"s":"栃木"},{"t":2012.52,"v":1e-5,"s":"栃木"},{"t":2012.58,"v":1e-5,"s":"栃木"},{"t":2012.65,"v":1e-5,"s":"栃木"},{"t":2012.67,"v":1e-5,"s":"栃木"},{"t":2012.7,"v":1e-5,"s":"栃木"},{"t":2012.72,"v":1e-5,"s":"栃木"},{"t":2012.75,"v":1e-5,"s":"栃木"},{"t":2012.77,"v":1e-5,"s":"栃木"},{"t":2012.8,"v":1e-5,"s":"栃木"},{"t":2014.54,"v":1e-5,"s":"栃木"},{"t":2015.19,"v":1e-5,"s":"栃木"},{"t":2015.36,"v":1e-5,"s":"栃木"},{"t":2015.38,"v":1e-5,"s":"栃木"},{"t":2015.47,"v":1e-5,"s":"栃木"},{"t":2015.52,"v":1e-5,"s":"栃木"},{"t":2015.57,"v":1e-5,"s":"栃木"},{"t":2015.62,"v":1e-5,"s":"栃木"},{"t":2015.65,"v":1e-5,"s":"栃木"},{"t":2015.66,"v":1e-5,"s":"栃木"},{"t":2016.74,"v":1e-5,"s":"栃木"},
{"t":2012.83,"v":1e-5,"s":"群馬"},{"t":2012.96,"v":1e-5,"s":"群馬"},{"t":2013.25,"v":1e-5,"s":"群馬"},{"t":2013.3,"v":1e-5,"s":"群馬"},{"t":2013.34,"v":1e-5,"s":"群馬"},{"t":2014.75,"v":1e-5,"s":"群馬"},{"t":2016.66,"v":1e-5,"s":"群馬"},
{"t":2015.3,"v":1e-5,"s":"宮城"},{"t":2015.44,"v":1e-5,"s":"宮城"},{"t":2016.6,"v":1e-5,"s":"宮城"},{"t":2016.83,"v":1e-5,"s":"宮城"},{"t":2016.87,"v":1e-5,"s":"宮城"},{"t":2016.9,"v":1e-5,"s":"宮城"},{"t":2016.93,"v":1e-5,"s":"宮城"},{"t":2016.95,"v":1e-5,"s":"宮城"},
{"t":2016.52,"v":1e-5,"s":"福島"},{"t":2016.54,"v":1e-5,"s":"福島"},{"t":2016.57,"v":1e-5,"s":"福島"},{"t":2016.64,"v":1e-5,"s":"福島"},{"t":2016.69,"v":1e-5,"s":"福島"}
],
"p2": [
{"t":2012.01,"v":0.011,"s":"s-群馬"},{"t":2012.03,"v":0.006,"s":"s-群馬"},{"t":2012.05,"v":0.0035,"s":"s-群馬"},{"t":2012.07,"v":0.009,"s":"s-群馬"},{"t":2012.09,"v":0.0045,"s":"s-群馬"},{"t":2012.11,"v":0.0025,"s":"s-群馬"},{"t":2012.13,"v":0.0015,"s":"s-群馬"},{"t":2012.15,"v":0.007,"s":"s-群馬"},{"t":2012.17,"v":0.012,"s":"s-群馬"},
{"t":2012.02,"v":0.0045,"s":"s-栃木"},{"t":2012.04,"v":0.0018,"s":"s-栃木"},{"t":2012.06,"v":0.013,"s":"s-栃木"},{"t":2012.08,"v":0.0055,"s":"s-栃木"},{"t":2012.1,"v":0.0032,"s":"s-栃木"},{"t":2012.12,"v":0.008,"s":"s-栃木"},{"t":2012.14,"v":0.0022,"s":"s-栃木"},
{"t":2012.12,"v":0.0048,"s":"s-岩手"},{"t":2012.16,"v":0.009,"s":"s-岩手"},{"t":2012.18,"v":0.006,"s":"s-岩手"},{"t":2012.2,"v":0.011,"s":"s-岩手"},{"t":2012.22,"v":0.0075,"s":"s-岩手"},{"t":2012.19,"v":0.0035,"s":"s-岩手"},
{"t":2012.08,"v":0.12,"s":"s-福島"},{"t":2012.05,"v":0.0025,"s":"s-福島"},
{"t":2012.42,"v":0.0008,"s":"s-群馬"},{"t":2012.45,"v":0.005,"s":"s-群馬"},{"t":2012.48,"v":0.012,"s":"s-群馬"},{"t":2012.52,"v":0.0035,"s":"s-群馬"},{"t":2012.55,"v":0.02,"s":"s-群馬"},{"t":2012.58,"v":0.007,"s":"s-群馬"},{"t":2012.62,"v":0.0045,"s":"s-群馬"},{"t":2012.65,"v":0.035,"s":"s-群馬"},{"t":2012.68,"v":0.015,"s":"s-群馬"},{"t":2012.71,"v":0.006,"s":"s-群馬"},{"t":2012.74,"v":0.0025,"s":"s-群馬"},{"t":2012.77,"v":0.009,"s":"s-群馬"},{"t":2012.8,"v":0.03,"s":"s-群馬"},{"t":2012.83,"v":0.018,"s":"s-群馬"},{"t":2012.86,"v":0.0065,"s":"s-群馬"},
{"t":2012.4,"v":0.0035,"s":"s-栃木"},{"t":2012.44,"v":0.008,"s":"s-栃木"},{"t":2012.47,"v":0.015,"s":"s-栃木"},{"t":2012.5,"v":0.006,"s":"s-栃木"},{"t":2012.54,"v":0.0022,"s":"s-栃木"},{"t":2012.6,"v":0.011,"s":"s-栃木"},{"t":2012.66,"v":0.0045,"s":"s-栃木"},{"t":2012.72,"v":0.008,"s":"s-栃木"},{"t":2012.78,"v":0.0035,"s":"s-栃木"},{"t":2012.84,"v":0.0006,"s":"s-栃木"},{"t":2012.88,"v":0.0005,"s":"s-栃木"},{"t":2012.82,"v":0.012,"s":"s-栃木"},
{"t":2012.5,"v":0.0075,"s":"s-岩手"},{"t":2012.54,"v":0.012,"s":"s-岩手"},{"t":2012.6,"v":0.009,"s":"s-岩手"},{"t":2012.7,"v":0.045,"s":"s-岩手"},{"t":2012.72,"v":0.055,"s":"s-岩手"},{"t":2012.76,"v":0.005,"s":"s-岩手"},{"t":2012.64,"v":0.0045,"s":"s-岩手"},{"t":2012.9,"v":0.008,"s":"s-岩手"},{"t":2012.93,"v":0.00035,"s":"s-岩手"},
{"t":2012.68,"v":0.0025,"s":"s-福島"},{"t":2012.87,"v":0.0009,"s":"s-福島"},{"t":2012.62,"v":0.006,"s":"s-福島"},
{"t":2012.88,"v":0.025,"s":"s-群馬"},{"t":2012.9,"v":0.0045,"s":"s-群馬"},{"t":2012.92,"v":0.015,"s":"s-群馬"},{"t":2012.94,"v":0.0022,"s":"s-群馬"},{"t":2012.96,"v":0.009,"s":"s-群馬"},{"t":2012.97,"v":0.0032,"s":"s-群馬"},{"t":2012.99,"v":0.0018,"s":"s-群馬"},{"t":2012.93,"v":0.0065,"s":"s-群馬"},
{"t":2012.91,"v":0.0011,"s":"s-栃木"},{"t":2012.98,"v":0.0042,"s":"s-栃木"},
{"t":2013.08,"v":0.004,"s":"s-群馬"},{"t":2013.12,"v":0.0085,"s":"s-群馬"},{"t":2013.17,"v":0.0025,"s":"s-群馬"},{"t":2013.21,"v":0.012,"s":"s-群馬"},{"t":2013.26,"v":0.006,"s":"s-群馬"},
{"t":2013.1,"v":0.0065,"s":"s-岩手"},{"t":2013.16,"v":0.0055,"s":"s-岩手"},{"t":2013.22,"v":0.0095,"s":"s-岩手"},
{"t":2013.05,"v":0.0018,"s":"s-福島"},{"t":2013.14,"v":0.0075,"s":"s-福島"},{"t":2013.2,"v":0.0022,"s":"s-福島"},
{"t":2013.4,"v":0.002,"s":"s-群馬"},{"t":2013.41,"v":0.0035,"s":"s-群馬"},{"t":2013.42,"v":0.006,"s":"s-群馬"},{"t":2013.42,"v":0.0028,"s":"s-群馬"},{"t":2013.43,"v":0.012,"s":"s-群馬"},{"t":2013.43,"v":0.0045,"s":"s-群馬"},{"t":2013.44,"v":0.0022,"s":"s-群馬"},{"t":2013.44,"v":0.008,"s":"s-群馬"},{"t":2013.45,"v":0.0038,"s":"s-群馬"},{"t":2013.45,"v":0.02,"s":"s-群馬"},{"t":2013.46,"v":0.005,"s":"s-群馬"},{"t":2013.46,"v":0.0025,"s":"s-群馬"},{"t":2013.47,"v":0.003,"s":"s-群馬"},{"t":2013.47,"v":0.01,"s":"s-群馬"},{"t":2013.48,"v":0.0042,"s":"s-群馬"},{"t":2013.48,"v":0.0018,"s":"s-群馬"},{"t":2013.49,"v":0.007,"s":"s-群馬"},{"t":2013.5,"v":0.0032,"s":"s-群馬"},{"t":2013.51,"v":0.025,"s":"s-群馬"},{"t":2013.53,"v":0.0055,"s":"s-群馬"},
{"t":2013.52,"v":0.035,"s":"s-栃木"},{"t":2013.55,"v":0.009,"s":"s-栃木"},
{"t":2013.57,"v":0.015,"s":"s-群馬"},{"t":2013.6,"v":0.004,"s":"s-群馬"},{"t":2013.63,"v":0.0022,"s":"s-群馬"},{"t":2013.66,"v":0.009,"s":"s-群馬"},{"t":2013.68,"v":0.0035,"s":"s-群馬"},{"t":2013.71,"v":0.03,"s":"s-群馬"},{"t":2013.73,"v":0.0065,"s":"s-群馬"},{"t":2013.76,"v":0.012,"s":"s-群馬"},{"t":2013.78,"v":0.0028,"s":"s-群馬"},{"t":2013.81,"v":0.0045,"s":"s-群馬"},{"t":2013.84,"v":0.0018,"s":"s-群馬"},{"t":2013.86,"v":0.008,"s":"s-群馬"},{"t":2013.89,"v":0.02,"s":"s-群馬"},{"t":2013.92,"v":0.0055,"s":"s-群馬"},{"t":2013.95,"v":0.0032,"s":"s-群馬"},{"t":2013.98,"v":0.011,"s":"s-群馬"},{"t":2014.0,"v":0.0075,"s":"s-群馬"},{"t":2014.03,"v":0.0042,"s":"s-群馬"},{"t":2014.07,"v":0.015,"s":"s-群馬"},{"t":2014.1,"v":0.0025,"s":"s-群馬"},{"t":2014.13,"v":0.006,"s":"s-群馬"},{"t":2014.16,"v":0.0015,"s":"s-群馬"},{"t":2014.19,"v":0.0035,"s":"s-群馬"},{"t":2014.22,"v":0.0012,"s":"s-群馬"},{"t":2014.26,"v":0.004,"s":"s-群馬"},
{"t":2013.62,"v":0.0085,"s":"s-宮城"},{"t":2013.69,"v":0.07,"s":"s-宮城"},{"t":2013.72,"v":0.012,"s":"s-宮城"},{"t":2013.79,"v":0.005,"s":"s-宮城"},{"t":2013.87,"v":0.0028,"s":"s-宮城"},{"t":2013.94,"v":0.018,"s":"s-宮城"},{"t":2014.05,"v":0.0065,"s":"s-宮城"},{"t":2014.09,"v":0.035,"s":"s-宮城"},{"t":2014.11,"v":0.045,"s":"s-宮城"},{"t":2014.2,"v":0.0055,"s":"s-宮城"},{"t":2014.28,"v":0.009,"s":"s-宮城"},
{"t":2013.58,"v":0.0065,"s":"s-岩手"},{"t":2013.65,"v":0.003,"s":"s-岩手"},{"t":2013.74,"v":0.032,"s":"s-岩手"},{"t":2013.82,"v":0.0095,"s":"s-岩手"},{"t":2013.9,"v":0.006,"s":"s-岩手"},{"t":2013.96,"v":0.0045,"s":"s-岩手"},{"t":2014.01,"v":0.0025,"s":"s-岩手"},{"t":2014.03,"v":0.0018,"s":"s-岩手"},{"t":2014.05,"v":0.0016,"s":"s-岩手"},{"t":2014.07,"v":0.002,"s":"s-岩手"},{"t":2014.09,"v":0.0035,"s":"s-岩手"},{"t":2014.12,"v":0.0045,"s":"s-岩手"},{"t":2014.14,"v":0.0019,"s":"s-岩手"},
{"t":2013.75,"v":0.0013,"s":"s-福島"},{"t":2013.85,"v":0.0035,"s":"s-福島"},{"t":2014.02,"v":0.00045,"s":"s-福島"},{"t":2014.1,"v":0.0012,"s":"s-福島"},{"t":2014.15,"v":0.025,"s":"s-福島"},{"t":2014.18,"v":0.0028,"s":"s-福島"},
{"t":2013.7,"v":0.02,"s":"s-栃木"},{"t":2013.8,"v":0.0012,"s":"s-栃木"},{"t":2013.88,"v":0.0065,"s":"s-栃木"},
{"t":2014.32,"v":0.0035,"s":"s-群馬"},{"t":2014.36,"v":0.009,"s":"s-群馬"},{"t":2014.4,"v":0.0022,"s":"s-群馬"},{"t":2014.44,"v":0.015,"s":"s-群馬"},{"t":2014.48,"v":0.006,"s":"s-群馬"},{"t":2014.52,"v":0.028,"s":"s-群馬"},{"t":2014.56,"v":0.0045,"s":"s-群馬"},{"t":2014.6,"v":0.018,"s":"s-群馬"},{"t":2014.63,"v":0.04,"s":"s-群馬"},{"t":2014.66,"v":0.0085,"s":"s-群馬"},{"t":2014.7,"v":0.055,"s":"s-群馬"},{"t":2014.73,"v":0.08,"s":"s-群馬"},{"t":2014.75,"v":0.012,"s":"s-群馬"},{"t":2014.78,"v":0.0055,"s":"s-群馬"},{"t":2014.8,"v":0.025,"s":"s-群馬"},{"t":2014.83,"v":0.0038,"s":"s-群馬"},{"t":2014.86,"v":0.015,"s":"s-群馬"},{"t":2014.89,"v":0.0065,"s":"s-群馬"},{"t":2014.92,"v":0.003,"s":"s-群馬"},
{"t":2014.34,"v":0.0085,"s":"s-宮城"},{"t":2014.42,"v":0.0045,"s":"s-宮城"},{"t":2014.5,"v":0.012,"s":"s-宮城"},{"t":2014.58,"v":0.0065,"s":"s-宮城"},{"t":2014.64,"v":0.03,"s":"s-宮城"},{"t":2014.7,"v":0.0095,"s":"s-宮城"},{"t":2014.76,"v":0.0042,"s":"s-宮城"},{"t":2014.84,"v":0.0075,"s":"s-宮城"},{"t":2014.9,"v":0.0015,"s":"s-宮城"},
{"t":2014.38,"v":0.0025,"s":"s-福島"},{"t":2014.46,"v":0.0055,"s":"s-福島"},{"t":2014.54,"v":0.0018,"s":"s-福島"},{"t":2014.62,"v":0.0035,"s":"s-福島"},{"t":2014.68,"v":0.0012,"s":"s-福島"},{"t":2014.85,"v":0.0022,"s":"s-福島"},{"t":2014.94,"v":0.0028,"s":"s-福島"},
{"t":2014.45,"v":0.0032,"s":"s-栃木"},{"t":2014.57,"v":0.0011,"s":"s-栃木"},{"t":2014.6,"v":0.0013,"s":"s-栃木"},{"t":2014.72,"v":0.0026,"s":"s-栃木"},{"t":2014.81,"v":0.012,"s":"s-栃木"},{"t":2014.88,"v":0.0042,"s":"s-栃木"},
{"t":2014.55,"v":0.0075,"s":"s-岩手"},{"t":2014.67,"v":0.0035,"s":"s-岩手"},{"t":2014.79,"v":0.0048,"s":"s-岩手"},
{"t":2015.0,"v":0.0009,"s":"s-福島"},{"t":2015.05,"v":0.0025,"s":"s-福島"},{"t":2015.09,"v":0.0032,"s":"s-福島"},{"t":2015.13,"v":0.0011,"s":"s-福島"},{"t":2015.18,"v":0.0042,"s":"s-福島"},{"t":2015.24,"v":0.0016,"s":"s-福島"},
{"t":2015.03,"v":0.0035,"s":"s-群馬"},{"t":2015.11,"v":0.002,"s":"s-群馬"},{"t":2015.2,"v":0.0048,"s":"s-群馬"},{"t":2015.27,"v":0.0013,"s":"s-群馬"},
{"t":2015.07,"v":0.0028,"s":"s-岩手"},{"t":2015.15,"v":0.0021,"s":"s-岩手"},
{"t":2015.32,"v":0.0065,"s":"s-群馬"},{"t":2015.35,"v":0.012,"s":"s-群馬"},{"t":2015.38,"v":0.0028,"s":"s-群馬"},{"t":2015.41,"v":0.018,"s":"s-群馬"},{"t":2015.44,"v":0.0045,"s":"s-群馬"},{"t":2015.47,"v":0.025,"s":"s-群馬"},{"t":2015.5,"v":0.009,"s":"s-群馬"},{"t":2015.53,"v":0.0035,"s":"s-群馬"},{"t":2015.56,"v":0.015,"s":"s-群馬"},{"t":2015.59,"v":0.0065,"s":"s-群馬"},{"t":2015.62,"v":0.0025,"s":"s-群馬"},{"t":2015.65,"v":0.011,"s":"s-群馬"},{"t":2015.68,"v":0.0042,"s":"s-群馬"},{"t":2015.71,"v":0.02,"s":"s-群馬"},{"t":2015.74,"v":0.0075,"s":"s-群馬"},{"t":2015.77,"v":0.0032,"s":"s-群馬"},{"t":2015.8,"v":0.0095,"s":"s-群馬"},{"t":2015.83,"v":0.0055,"s":"s-群馬"},{"t":2015.86,"v":0.0018,"s":"s-群馬"},{"t":2015.9,"v":0.004,"s":"s-群馬"},
{"t":2015.37,"v":0.0085,"s":"s-宮城"},{"t":2015.46,"v":0.0055,"s":"s-宮城"},{"t":2015.55,"v":0.0022,"s":"s-宮城"},{"t":2015.63,"v":0.0015,"s":"s-宮城"},{"t":2015.7,"v":0.0012,"s":"s-宮城"},{"t":2015.78,"v":0.0018,"s":"s-宮城"},{"t":2015.85,"v":0.0013,"s":"s-宮城"},
{"t":2015.34,"v":0.0095,"s":"s-栃木"},{"t":2015.43,"v":0.0032,"s":"s-栃木"},{"t":2015.52,"v":0.018,"s":"s-栃木"},{"t":2015.58,"v":0.0021,"s":"s-栃木"},{"t":2015.66,"v":0.0065,"s":"s-栃木"},{"t":2015.75,"v":0.012,"s":"s-栃木"},{"t":2015.82,"v":0.0035,"s":"s-栃木"},{"t":2015.88,"v":0.0016,"s":"s-栃木"},
{"t":2015.4,"v":0.0045,"s":"s-岩手"},{"t":2015.6,"v":0.0011,"s":"s-岩手"},{"t":2015.64,"v":0.0015,"s":"s-岩手"},{"t":2015.72,"v":0.0028,"s":"s-岩手"},{"t":2015.84,"v":0.0023,"s":"s-岩手"},{"t":2015.92,"v":0.0038,"s":"s-岩手"},
{"t":2015.49,"v":0.0012,"s":"s-福島"},{"t":2015.69,"v":0.0025,"s":"s-福島"},
{"t":2015.96,"v":0.009,"s":"s-群馬"},{"t":2015.99,"v":0.0045,"s":"s-群馬"},{"t":2016.02,"v":0.015,"s":"s-群馬"},{"t":2016.05,"v":0.0028,"s":"s-群馬"},{"t":2016.08,"v":0.0065,"s":"s-群馬"},{"t":2016.11,"v":0.0018,"s":"s-群馬"},{"t":2016.14,"v":0.0095,"s":"s-群馬"},{"t":2016.17,"v":0.0035,"s":"s-群馬"},{"t":2016.2,"v":0.0022,"s":"s-群馬"},{"t":2016.23,"v":0.0012,"s":"s-群馬"},{"t":2016.25,"v":0.0008,"s":"s-群馬"},{"t":2016.28,"v":0.0042,"s":"s-群馬"},{"t":2016.31,"v":0.0025,"s":"s-群馬"},{"t":2016.34,"v":0.0015,"s":"s-群馬"},{"t":2016.12,"v":0.02,"s":"s-群馬"},
{"t":2015.98,"v":0.0025,"s":"s-岩手"},{"t":2016.01,"v":0.0005,"s":"s-岩手"},{"t":2016.06,"v":0.0038,"s":"s-岩手"},{"t":2016.13,"v":0.0011,"s":"s-岩手"},{"t":2016.37,"v":0.0018,"s":"s-岩手"},
{"t":2016.04,"v":0.0065,"s":"s-福島"},{"t":2016.1,"v":0.0032,"s":"s-福島"},{"t":2016.19,"v":0.0015,"s":"s-福島"},{"t":2016.26,"v":0.0045,"s":"s-福島"},
{"t":2016.08,"v":0.011,"s":"s-宮城"},{"t":2016.16,"v":0.0028,"s":"s-宮城"},{"t":2016.22,"v":0.0021,"s":"s-宮城"},
{"t":2016.42,"v":0.0035,"s":"s-福島"},{"t":2016.45,"v":0.011,"s":"s-福島"},{"t":2016.48,"v":0.033,"s":"s-福島"},{"t":2016.52,"v":0.018,"s":"s-福島"},{"t":2016.55,"v":0.0045,"s":"s-福島"},{"t":2016.6,"v":0.0085,"s":"s-福島"},{"t":2016.75,"v":0.045,"s":"s-福島"},{"t":2016.8,"v":0.015,"s":"s-福島"},{"t":2016.84,"v":0.005,"s":"s-福島"},{"t":2016.88,"v":0.0025,"s":"s-福島"},{"t":2016.92,"v":0.0035,"s":"s-福島"},
{"t":2016.43,"v":0.0011,"s":"s-岩手"},{"t":2016.46,"v":0.0015,"s":"s-岩手"},{"t":2016.49,"v":0.0045,"s":"s-岩手"},{"t":2016.5,"v":0.055,"s":"s-岩手"},{"t":2016.52,"v":0.025,"s":"s-岩手"},{"t":2016.54,"v":0.0075,"s":"s-岩手"},{"t":2016.47,"v":0.0018,"s":"s-岩手"},
{"t":2016.58,"v":0.0045,"s":"s-宮城"},{"t":2016.68,"v":0.07,"s":"s-宮城"},{"t":2016.72,"v":0.018,"s":"s-宮城"},{"t":2016.89,"v":0.0022,"s":"s-宮城"},{"t":2016.97,"v":0.011,"s":"s-宮城"},{"t":2016.99,"v":0.0095,"s":"s-宮城"},{"t":2016.62,"v":0.0095,"s":"s-宮城"},
{"t":2016.44,"v":0.01,"s":"s-群馬"},{"t":2016.47,"v":0.0065,"s":"s-群馬"},
{"t":2016.51,"v":0.0018,"s":"s-栃木"},
{"t":2012.12,"v":1e-5,"s":"s-群馬"},{"t":2012.15,"v":1e-5,"s":"s-群馬"},{"t":2012.72,"v":1e-5,"s":"s-群馬"},{"t":2012.95,"v":1e-5,"s":"s-群馬"},{"t":2012.97,"v":1e-5,"s":"s-群馬"},{"t":2013.15,"v":1e-5,"s":"s-群馬"},{"t":2013.23,"v":1e-5,"s":"s-群馬"},{"t":2013.7,"v":1e-5,"s":"s-群馬"},{"t":2014.05,"v":1e-5,"s":"s-群馬"},{"t":2014.2,"v":1e-5,"s":"s-群馬"},{"t":2014.25,"v":1e-5,"s":"s-群馬"},{"t":2015.1,"v":1e-5,"s":"s-群馬"},{"t":2015.38,"v":1e-5,"s":"s-群馬"},{"t":2016.2,"v":1e-5,"s":"s-群馬"},{"t":2016.23,"v":1e-5,"s":"s-群馬"},{"t":2016.25,"v":1e-5,"s":"s-群馬"},
{"t":2013.42,"v":1e-5,"s":"s-宮城"},{"t":2014.3,"v":1e-5,"s":"s-宮城"},{"t":2014.6,"v":1e-5,"s":"s-宮城"},{"t":2014.78,"v":1e-5,"s":"s-宮城"},{"t":2015.11,"v":1e-5,"s":"s-宮城"},{"t":2015.32,"v":1e-5,"s":"s-宮城"},{"t":2016.05,"v":1e-5,"s":"s-宮城"}
],
"p3": [
{"t":2012.05,"v":0.0027,"s":"b-福島"},
{"t":2012.34,"v":0.0065,"s":"b-群馬"},{"t":2012.38,"v":0.0045,"s":"b-群馬"},{"t":2012.42,"v":0.012,"s":"b-群馬"},{"t":2012.46,"v":0.02,"s":"b-群馬"},{"t":2012.5,"v":0.009,"s":"b-群馬"},{"t":2012.53,"v":0.0055,"s":"b-群馬"},{"t":2012.56,"v":0.015,"s":"b-群馬"},{"t":2012.58,"v":0.0035,"s":"b-群馬"},{"t":2012.61,"v":0.03,"s":"b-群馬"},{"t":2012.63,"v":0.008,"s":"b-群馬"},{"t":2012.65,"v":0.018,"s":"b-群馬"},{"t":2012.67,"v":0.0045,"s":"b-群馬"},{"t":2012.69,"v":0.011,"s":"b-群馬"},{"t":2012.71,"v":0.0065,"s":"b-群馬"},{"t":2012.73,"v":0.015,"s":"b-群馬"},{"t":2012.75,"v":0.0028,"s":"b-群馬"},{"t":2012.77,"v":0.009,"s":"b-群馬"},{"t":2012.79,"v":0.0042,"s":"b-群馬"},{"t":2012.82,"v":0.012,"s":"b-群馬"},{"t":2012.85,"v":0.0065,"s":"b-群馬"},{"t":2012.9,"v":0.0035,"s":"b-群馬"},
{"t":2012.35,"v":0.0028,"s":"b-宮城"},{"t":2012.43,"v":0.016,"s":"b-宮城"},{"t":2012.49,"v":0.0075,"s":"b-宮城"},{"t":2012.55,"v":0.011,"s":"b-宮城"},{"t":2012.6,"v":0.004,"s":"b-宮城"},{"t":2012.66,"v":0.018,"s":"b-宮城"},{"t":2012.7,"v":0.009,"s":"b-宮城"},{"t":2012.74,"v":0.006,"s":"b-宮城"},{"t":2012.78,"v":0.015,"s":"b-宮城"},{"t":2012.83,"v":0.0028,"s":"b-宮城"},
{"t":2012.4,"v":0.0035,"s":"b-岩手"},{"t":2012.64,"v":0.0045,"s":"b-岩手"},{"t":2012.72,"v":0.014,"s":"b-岩手"},{"t":2012.8,"v":0.0075,"s":"b-岩手"},
{"t":2012.3,"v":0.0025,"s":"b-福島"},{"t":2012.33,"v":0.004,"s":"b-福島"},{"t":2012.36,"v":0.0015,"s":"b-福島"},{"t":2012.38,"v":0.008,"s":"b-福島"},{"t":2012.4,"v":0.0009,"s":"b-福島"},{"t":2012.42,"v":0.0035,"s":"b-福島"},{"t":2012.44,"v":0.0018,"s":"b-福島"},{"t":2012.45,"v":0.065,"s":"b-福島"},{"t":2012.47,"v":0.006,"s":"b-福島"},{"t":2012.48,"v":0.0012,"s":"b-福島"},{"t":2012.5,"v":0.003,"s":"b-福島"},{"t":2012.51,"v":0.0022,"s":"b-福島"},{"t":2012.53,"v":0.012,"s":"b-福島"},{"t":2012.54,"v":0.0045,"s":"b-福島"},{"t":2012.55,"v":0.0016,"s":"b-福島"},{"t":2012.57,"v":0.0028,"s":"b-福島"},{"t":2012.58,"v":0.0008,"s":"b-福島"},{"t":2012.59,"v":0.0055,"s":"b-福島"},{"t":2012.6,"v":0.002,"s":"b-福島"},{"t":2012.61,"v":0.0035,"s":"b-福島"},{"t":2012.62,"v":0.0011,"s":"b-福島"},{"t":2012.63,"v":0.0065,"s":"b-福島"},{"t":2012.64,"v":0.0025,"s":"b-福島"},{"t":2012.65,"v":0.0004,"s":"b-福島"},{"t":2012.66,"v":0.0018,"s":"b-福島"},{"t":2012.67,"v":0.003,"s":"b-福島"},{"t":2012.68,"v":0.0009,"s":"b-福島"},{"t":2012.69,"v":0.0045,"s":"b-福島"},{"t":2012.7,"v":0.0014,"s":"b-福島"},{"t":2012.71,"v":0.0022,"s":"b-福島"},{"t":2012.72,"v":0.0007,"s":"b-福島"},{"t":2012.73,"v":0.0038,"s":"b-福島"},{"t":2012.74,"v":0.0012,"s":"b-福島"},{"t":2012.75,"v":0.0026,"s":"b-福島"},{"t":2012.76,"v":0.0019,"s":"b-福島"},{"t":2012.77,"v":0.0055,"s":"b-福島"},{"t":2012.78,"v":0.001,"s":"b-福島"},{"t":2012.79,"v":0.0032,"s":"b-福島"},{"t":2012.8,"v":0.0016,"s":"b-福島"},{"t":2012.81,"v":0.0007,"s":"b-福島"},{"t":2012.82,"v":0.0028,"s":"b-福島"},{"t":2012.84,"v":0.0045,"s":"b-福島"},{"t":2012.86,"v":0.0012,"s":"b-福島"},{"t":2012.88,"v":0.015,"s":"b-福島"},{"t":2012.9,"v":0.0022,"s":"b-福島"},{"t":2012.92,"v":0.028,"s":"b-福島"},{"t":2012.94,"v":0.009,"s":"b-福島"},{"t":2012.97,"v":0.0055,"s":"b-福島"},{"t":2012.85,"v":0.0035,"s":"b-福島"},{"t":2012.62,"v":0.0003,"s":"b-福島"},{"t":2012.67,"v":0.0005,"s":"b-福島"},
{"t":2013.4,"v":0.008,"s":"b-群馬"},{"t":2013.43,"v":0.0045,"s":"b-群馬"},{"t":2013.46,"v":0.028,"s":"b-群馬"},{"t":2013.49,"v":0.025,"s":"b-群馬"},{"t":2013.52,"v":0.012,"s":"b-群馬"},{"t":2013.55,"v":0.0065,"s":"b-群馬"},{"t":2013.57,"v":0.0022,"s":"b-群馬"},{"t":2013.59,"v":0.009,"s":"b-群馬"},{"t":2013.61,"v":0.0035,"s":"b-群馬"},{"t":2013.62,"v":0.015,"s":"b-群馬"},{"t":2013.63,"v":0.0018,"s":"b-群馬"},{"t":2013.64,"v":0.0055,"s":"b-群馬"},{"t":2013.65,"v":0.011,"s":"b-群馬"},{"t":2013.66,"v":0.003,"s":"b-群馬"},{"t":2013.67,"v":0.0075,"s":"b-群馬"},{"t":2013.68,"v":0.0022,"s":"b-群馬"},{"t":2013.7,"v":0.0042,"s":"b-群馬"},{"t":2013.72,"v":0.0016,"s":"b-群馬"},{"t":2013.58,"v":0.0009,"s":"b-群馬"},{"t":2013.38,"v":0.0012,"s":"b-群馬"},{"t":2013.5,"v":0.0028,"s":"b-群馬"},
{"t":2013.58,"v":0.006,"s":"b-岩手"},{"t":2013.61,"v":0.0045,"s":"b-岩手"},{"t":2013.63,"v":0.012,"s":"b-岩手"},{"t":2013.65,"v":0.009,"s":"b-岩手"},{"t":2013.67,"v":0.0035,"s":"b-岩手"},{"t":2013.69,"v":0.0065,"s":"b-岩手"},{"t":2013.8,"v":0.012,"s":"b-岩手"},{"t":2013.82,"v":0.0105,"s":"b-岩手"},
{"t":2013.62,"v":0.0085,"s":"b-宮城"},{"t":2013.66,"v":0.0075,"s":"b-宮城"},{"t":2013.7,"v":0.0055,"s":"b-宮城"},{"t":2013.64,"v":0.0038,"s":"b-宮城"},
{"t":2013.35,"v":0.04,"s":"b-福島"},{"t":2013.37,"v":0.006,"s":"b-福島"},{"t":2013.45,"v":0.0018,"s":"b-福島"},{"t":2013.53,"v":0.0035,"s":"b-福島"},{"t":2013.56,"v":0.0014,"s":"b-福島"},{"t":2013.6,"v":0.0025,"s":"b-福島"},{"t":2013.62,"v":0.0042,"s":"b-福島"},{"t":2013.64,"v":0.0012,"s":"b-福島"},{"t":2013.66,"v":0.0019,"s":"b-福島"},{"t":2013.68,"v":0.0055,"s":"b-福島"},{"t":2013.7,"v":0.0028,"s":"b-福島"},{"t":2013.72,"v":0.008,"s":"b-福島"},{"t":2013.75,"v":0.0035,"s":"b-福島"},{"t":2013.78,"v":0.012,"s":"b-福島"},{"t":2013.82,"v":0.0022,"s":"b-福島"},{"t":2013.87,"v":0.0018,"s":"b-福島"},{"t":2013.9,"v":0.0025,"s":"b-福島"},{"t":2013.92,"v":0.006,"s":"b-福島"},{"t":2013.6,"v":0.0009,"s":"b-福島"},
{"t":2014.34,"v":0.012,"s":"b-群馬"},{"t":2014.37,"v":0.006,"s":"b-群馬"},{"t":2014.4,"v":0.018,"s":"b-群馬"},{"t":2014.43,"v":0.0085,"s":"b-群馬"},{"t":2014.45,"v":0.08,"s":"b-群馬"},{"t":2014.47,"v":0.0035,"s":"b-群馬"},{"t":2014.5,"v":0.014,"s":"b-群馬"},{"t":2014.53,"v":0.006,"s":"b-群馬"},{"t":2014.56,"v":0.011,"s":"b-群馬"},{"t":2014.59,"v":0.0045,"s":"b-群馬"},{"t":2014.62,"v":0.009,"s":"b-群馬"},{"t":2014.65,"v":0.0028,"s":"b-群馬"},{"t":2014.68,"v":0.012,"s":"b-群馬"},{"t":2014.71,"v":0.0055,"s":"b-群馬"},{"t":2014.74,"v":0.007,"s":"b-群馬"},{"t":2014.77,"v":0.004,"s":"b-群馬"},{"t":2014.8,"v":0.01,"s":"b-群馬"},{"t":2014.83,"v":0.0035,"s":"b-群馬"},{"t":2014.85,"v":0.05,"s":"b-群馬"},{"t":2014.88,"v":0.0085,"s":"b-群馬"},{"t":2014.91,"v":0.0028,"s":"b-群馬"},
{"t":2014.38,"v":0.0055,"s":"b-宮城"},{"t":2014.44,"v":0.016,"s":"b-宮城"},{"t":2014.52,"v":0.009,"s":"b-宮城"},{"t":2014.57,"v":0.0065,"s":"b-宮城"},{"t":2014.61,"v":0.012,"s":"b-宮城"},{"t":2014.66,"v":0.0042,"s":"b-宮城"},{"t":2014.72,"v":0.0095,"s":"b-宮城"},{"t":2014.78,"v":0.006,"s":"b-宮城"},
{"t":2014.36,"v":0.004,"s":"b-岩手"},{"t":2014.42,"v":0.0065,"s":"b-岩手"},{"t":2014.55,"v":0.0022,"s":"b-岩手"},{"t":2014.48,"v":0.0009,"s":"b-岩手"},{"t":2014.63,"v":0.0018,"s":"b-岩手"},{"t":2014.7,"v":0.0048,"s":"b-岩手"},{"t":2014.75,"v":0.003,"s":"b-岩手"},{"t":2014.5,"v":0.0007,"s":"b-岩手"},
{"t":2014.33,"v":0.0045,"s":"b-福島"},{"t":2014.35,"v":0.015,"s":"b-福島"},{"t":2014.36,"v":0.0025,"s":"b-福島"},{"t":2014.38,"v":0.0008,"s":"b-福島"},{"t":2014.39,"v":0.0065,"s":"b-福島"},{"t":2014.4,"v":0.0015,"s":"b-福島"},{"t":2014.41,"v":0.025,"s":"b-福島"},{"t":2014.42,"v":0.0035,"s":"b-福島"},{"t":2014.43,"v":0.0007,"s":"b-福島"},{"t":2014.44,"v":0.0022,"s":"b-福島"},{"t":2014.45,"v":0.009,"s":"b-福島"},{"t":2014.46,"v":0.0012,"s":"b-福島"},{"t":2014.47,"v":0.0045,"s":"b-福島"},{"t":2014.48,"v":0.0018,"s":"b-福島"},{"t":2014.49,"v":0.003,"s":"b-福島"},{"t":2014.5,"v":0.0009,"s":"b-福島"},{"t":2014.51,"v":0.0055,"s":"b-福島"},{"t":2014.52,"v":0.0014,"s":"b-福島"},{"t":2014.53,"v":0.0028,"s":"b-福島"},{"t":2014.54,"v":0.0006,"s":"b-福島"},{"t":2014.55,"v":0.002,"s":"b-福島"},{"t":2014.56,"v":0.0038,"s":"b-福島"},{"t":2014.57,"v":0.0011,"s":"b-福島"},{"t":2014.58,"v":0.0016,"s":"b-福島"},{"t":2014.59,"v":0.0065,"s":"b-福島"},{"t":2014.6,"v":0.0009,"s":"b-福島"},{"t":2014.61,"v":0.0025,"s":"b-福島"},{"t":2014.62,"v":0.0013,"s":"b-福島"},{"t":2014.63,"v":0.0005,"s":"b-福島"},{"t":2014.64,"v":0.0032,"s":"b-福島"},{"t":2014.65,"v":0.0018,"s":"b-福島"},{"t":2014.66,"v":0.001,"s":"b-福島"},{"t":2014.67,"v":0.0042,"s":"b-福島"},{"t":2014.68,"v":0.0015,"s":"b-福島"},{"t":2014.69,"v":0.0007,"s":"b-福島"},{"t":2014.7,"v":0.0022,"s":"b-福島"},{"t":2014.71,"v":0.0012,"s":"b-福島"},{"t":2014.72,"v":0.0035,"s":"b-福島"},{"t":2014.73,"v":0.0019,"s":"b-福島"},{"t":2014.74,"v":0.0008,"s":"b-福島"},{"t":2014.75,"v":0.0028,"s":"b-福島"},{"t":2014.76,"v":0.0014,"s":"b-福島"},{"t":2014.77,"v":0.0045,"s":"b-福島"},{"t":2014.78,"v":0.0011,"s":"b-福島"},{"t":2014.8,"v":0.0025,"s":"b-福島"},{"t":2014.82,"v":0.0016,"s":"b-福島"},{"t":2014.84,"v":0.006,"s":"b-福島"},{"t":2014.86,"v":0.0013,"s":"b-福島"},{"t":2014.88,"v":0.0028,"s":"b-福島"},{"t":2014.9,"v":0.0045,"s":"b-福島"},{"t":2014.58,"v":0.012,"s":"b-福島"},{"t":2014.62,"v":0.015,"s":"b-福島"},{"t":2014.66,"v":0.0085,"s":"b-福島"},{"t":2014.6,"v":0.0004,"s":"b-福島"},{"t":2014.64,"v":0.0006,"s":"b-福島"},{"t":2014.56,"v":0.0024,"s":"b-福島"},{"t":2014.68,"v":0.0027,"s":"b-福島"},{"t":2014.52,"v":0.0034,"s":"b-福島"},{"t":2014.48,"v":0.0052,"s":"b-福島"},{"t":2014.7,"v":0.0058,"s":"b-福島"},
{"t":2015.03,"v":0.003,"s":"b-福島"},{"t":2014.98,"v":0.0028,"s":"b-福島"},
{"t":2015.33,"v":0.015,"s":"b-群馬"},{"t":2015.37,"v":0.006,"s":"b-群馬"},{"t":2015.4,"v":0.012,"s":"b-群馬"},{"t":2015.43,"v":0.0045,"s":"b-群馬"},{"t":2015.46,"v":0.0085,"s":"b-群馬"},{"t":2015.49,"v":0.0028,"s":"b-群馬"},{"t":2015.52,"v":0.011,"s":"b-群馬"},{"t":2015.55,"v":0.0065,"s":"b-群馬"},{"t":2015.58,"v":0.0008,"s":"b-群馬"},{"t":2015.61,"v":0.0035,"s":"b-群馬"},{"t":2015.64,"v":0.0055,"s":"b-群馬"},{"t":2015.68,"v":0.0045,"s":"b-群馬"},{"t":2015.72,"v":0.003,"s":"b-群馬"},{"t":2015.42,"v":0.02,"s":"b-群馬"},
{"t":2015.3,"v":0.0085,"s":"b-岩手"},{"t":2015.36,"v":0.019,"s":"b-岩手"},{"t":2015.44,"v":0.0065,"s":"b-岩手"},{"t":2015.51,"v":0.0045,"s":"b-岩手"},{"t":2015.57,"v":0.0028,"s":"b-岩手"},{"t":2015.62,"v":0.0075,"s":"b-岩手"},
{"t":2015.5,"v":0.0095,"s":"b-宮城"},{"t":2015.6,"v":0.0042,"s":"b-宮城"},{"t":2015.75,"v":0.012,"s":"b-宮城"},
{"t":2015.33,"v":0.0045,"s":"b-福島"},{"t":2015.39,"v":0.0022,"s":"b-福島"},{"t":2015.48,"v":0.0035,"s":"b-福島"},{"t":2015.54,"v":0.0012,"s":"b-福島"},{"t":2015.58,"v":0.0018,"s":"b-福島"},{"t":2015.6,"v":0.0006,"s":"b-福島"},{"t":2015.62,"v":0.0006,"s":"b-福島"},{"t":2015.63,"v":0.0028,"s":"b-福島"},{"t":2015.65,"v":0.0042,"s":"b-福島"},{"t":2015.66,"v":0.005,"s":"b-福島"},{"t":2015.67,"v":0.0035,"s":"b-福島"},{"t":2015.7,"v":0.008,"s":"b-福島"},{"t":2015.62,"v":0.0009,"s":"b-福島"},{"t":2015.64,"v":0.0015,"s":"b-福島"},
{"t":2015.9,"v":0.003,"s":"b-福島"},{"t":2015.98,"v":0.006,"s":"b-福島"},{"t":2016.02,"v":0.0045,"s":"b-福島"},{"t":2016.05,"v":0.015,"s":"b-福島"},{"t":2016.12,"v":0.003,"s":"b-福島"},
{"t":2016.03,"v":0.011,"s":"b-宮城"},
{"t":2016.36,"v":0.005,"s":"b-群馬"},{"t":2016.4,"v":0.035,"s":"b-群馬"},{"t":2016.44,"v":0.016,"s":"b-群馬"},{"t":2016.48,"v":0.0085,"s":"b-群馬"},{"t":2016.52,"v":0.026,"s":"b-群馬"},{"t":2016.56,"v":0.011,"s":"b-群馬"},{"t":2016.6,"v":0.0045,"s":"b-群馬"},{"t":2016.64,"v":0.058,"s":"b-群馬"},{"t":2016.68,"v":0.0075,"s":"b-群馬"},{"t":2016.72,"v":0.012,"s":"b-群馬"},{"t":2016.76,"v":0.0065,"s":"b-群馬"},{"t":2016.8,"v":0.0035,"s":"b-群馬"},{"t":2016.5,"v":0.0022,"s":"b-群馬"},{"t":2016.7,"v":0.0032,"s":"b-群馬"},
{"t":2016.45,"v":0.0085,"s":"b-宮城"},{"t":2016.52,"v":0.014,"s":"b-宮城"},{"t":2016.58,"v":0.0075,"s":"b-宮城"},{"t":2016.62,"v":0.017,"s":"b-宮城"},{"t":2016.66,"v":0.011,"s":"b-宮城"},{"t":2016.7,"v":0.0055,"s":"b-宮城"},{"t":2016.74,"v":0.0095,"s":"b-宮城"},
{"t":2016.38,"v":0.018,"s":"b-岩手"},{"t":2016.42,"v":0.012,"s":"b-岩手"},{"t":2016.45,"v":0.0065,"s":"b-岩手"},{"t":2016.47,"v":0.0055,"s":"b-岩手"},{"t":2016.5,"v":0.009,"s":"b-岩手"},{"t":2016.53,"v":0.004,"s":"b-岩手"},{"t":2016.56,"v":0.022,"s":"b-岩手"},{"t":2016.6,"v":0.007,"s":"b-岩手"},{"t":2016.63,"v":0.0045,"s":"b-岩手"},{"t":2016.65,"v":0.0035,"s":"b-岩手"},{"t":2016.68,"v":0.011,"s":"b-岩手"},{"t":2016.72,"v":0.0028,"s":"b-岩手"},{"t":2016.48,"v":0.006,"s":"b-岩手"},
{"t":2016.36,"v":0.0003,"s":"b-福島"},{"t":2016.4,"v":0.0018,"s":"b-福島"},{"t":2016.42,"v":0.0035,"s":"b-福島"},{"t":2016.44,"v":0.0011,"s":"b-福島"},{"t":2016.46,"v":0.0025,"s":"b-福島"},{"t":2016.48,"v":0.0045,"s":"b-福島"},{"t":2016.49,"v":0.0015,"s":"b-福島"},{"t":2016.51,"v":0.0028,"s":"b-福島"},{"t":2016.53,"v":0.0065,"s":"b-福島"},{"t":2016.54,"v":0.0009,"s":"b-福島"},{"t":2016.55,"v":0.0035,"s":"b-福島"},{"t":2016.57,"v":0.0018,"s":"b-福島"},{"t":2016.58,"v":0.0042,"s":"b-福島"},{"t":2016.59,"v":0.0012,"s":"b-福島"},{"t":2016.6,"v":0.11,"s":"b-福島"},{"t":2016.61,"v":0.003,"s":"b-福島"},{"t":2016.62,"v":0.0022,"s":"b-福島"},{"t":2016.63,"v":0.0075,"s":"b-福島"},{"t":2016.64,"v":0.0014,"s":"b-福島"},{"t":2016.65,"v":0.0035,"s":"b-福島"},{"t":2016.66,"v":0.0006,"s":"b-福島"},{"t":2016.67,"v":0.0025,"s":"b-福島"},{"t":2016.68,"v":0.0045,"s":"b-福島"},{"t":2016.69,"v":0.0011,"s":"b-福島"},{"t":2016.7,"v":0.0028,"s":"b-福島"},{"t":2016.71,"v":0.0016,"s":"b-福島"},{"t":2016.72,"v":0.0055,"s":"b-福島"},{"t":2016.73,"v":0.0008,"s":"b-福島"},{"t":2016.74,"v":0.0035,"s":"b-福島"},{"t":2016.75,"v":0.0005,"s":"b-福島"},{"t":2016.76,"v":0.002,"s":"b-福島"},{"t":2016.77,"v":0.0032,"s":"b-福島"},{"t":2016.78,"v":0.0012,"s":"b-福島"},{"t":2016.8,"v":0.0025,"s":"b-福島"},{"t":2016.81,"v":0.0002,"s":"b-福島"},{"t":2016.83,"v":0.0018,"s":"b-福島"},{"t":2016.85,"v":0.0028,"s":"b-福島"},{"t":2016.87,"v":0.0024,"s":"b-福島"},{"t":2016.56,"v":0.085,"s":"b-福島"},{"t":2016.52,"v":0.012,"s":"b-福島"},
{"t":2012.72,"v":1e-5,"s":"b-群馬"},{"t":2014.55,"v":1e-5,"s":"b-岩手"},{"t":2015.6,"v":1e-5,"s":"b-岩手"},{"t":2015.62,"v":1e-5,"s":"b-岩手"},{"t":2016.52,"v":1e-5,"s":"b-福島"},{"t":2016.58,"v":1e-5,"s":"b-福島"},{"t":2016.75,"v":1e-5,"s":"b-福島"}
]
},
"vconcat": [
{
 "width": 603, "height": 385,
 "data": {"name": "p1"},
 "layer": [
  {
   "mark": {"type": "point"},
   "encoding": {
    "x": {"field": "t", "type": "quantitative", "scale": {"domain": [2012, 2017], "nice": false, "zero": false},
     "axis": {"orient": "bottom", "values": [2012, 2013, 2014, 2015, 2016, 2017], "format": "d", "labelFlush": false, "labelOffset": -6, "tickSize": 9, "tickWidth": 2, "labelPadding": -3, "title": "Sampling date", "titleFontSize": 24, "titlePadding": 22, "encode": {"ticks": {"update": {"y2": {"value": -9}}}}}},
    "y": {"field": "v", "type": "quantitative", "scale": {"type": "log", "domain": [1e-6, 10], "nice": false},
     "axis": {"orient": "left", "values": [1e-6,2e-6,3e-6,4e-6,5e-6,6e-6,7e-6,8e-6,9e-6,1e-5,2e-5,3e-5,4e-5,5e-5,6e-5,7e-5,8e-5,9e-5,1e-4,2e-4,3e-4,4e-4,5e-4,6e-4,7e-4,8e-4,9e-4,1e-3,2e-3,3e-3,4e-3,5e-3,6e-3,7e-3,8e-3,9e-3,0.01,0.02,0.03,0.04,0.05,0.06,0.07,0.08,0.09,0.1,0.2,0.3,0.4,0.5,0.6,0.7,0.8,0.9,1,2,3,4,5,6,7,8,9,10],
      "labelExpr": "abs(log(datum.value)/LN10 - round(log(datum.value)/LN10)) < 1e-6 ? '10' + ['⁻⁶','⁻⁵','⁻⁴','⁻³','⁻²','⁻¹','⁰','¹'][round(log(datum.value)/LN10) + 6] : ''",
      "tickSize": 9, "tickWidth": 1.5, "labelPadding": -1, "title": "T", "titleFontSize": 26, "titlePadding": 20,
      "encode": {"ticks": {"update": {"x2": {"signal": "abs(log(datum.value)/LN10 - round(log(datum.value)/LN10)) < 1e-6 ? 9 : 5"}}}}}},
    "color": {"field": "s", "type": "nominal", "scale": {"domain": ["茨城", "群馬", "栃木", "宮城", "福島"], "range": ["#000000", "#3F4FA8", "#1E8A44", "#E8222B", "#F7941D"]},
     "legend": {"orient": "none", "legendX": 5, "legendY": -46, "direction": "horizontal", "columns": 5, "title": " ", "titleOrient": "left", "titleFontSize": 8, "titlePadding": 14, "symbolType": "circle", "symbolSize": 30, "symbolStrokeWidth": 1, "labelFont": "Noto Sans CJK JP", "labelFontSize": 15, "labelOffset": 24, "columnPadding": 58, "padding": 10, "strokeColor": "#333333", "fillColor": "white",
      "encode": {"labels": {"update": {"fill": {"signal": "['#000000','#3F4FA8','#1E8A44','#E8222B','#F7941D'][indexof(['茨城','群馬','栃木','宮城','福島'], datum.value)]"}}}, "legend": {"update": {"strokeWidth": {"value": 2}}}}}}
   }
  },
  {
   "transform": [{"filter": "datum.t > 3000"}],
   "mark": {"type": "point", "opacity": 0},
   "encoding": {
    "x": {"field": "t", "type": "quantitative", "axis": {"orient": "top", "values": [2012, 2013, 2014, 2015, 2016, 2017], "labels": false, "tickSize": 9, "tickWidth": 2, "title": null, "encode": {"ticks": {"update": {"y2": {"value": 9}}}}}},
    "y": {"field": "v", "type": "quantitative", "scale": {"type": "log"}, "axis": {"orient": "right", "values": [1e-6,2e-6,3e-6,4e-6,5e-6,6e-6,7e-6,8e-6,9e-6,1e-5,2e-5,3e-5,4e-5,5e-5,6e-5,7e-5,8e-5,9e-5,1e-4,2e-4,3e-4,4e-4,5e-4,6e-4,7e-4,8e-4,9e-4,1e-3,2e-3,3e-3,4e-3,5e-3,6e-3,7e-3,8e-3,9e-3,0.01,0.02,0.03,0.04,0.05,0.06,0.07,0.08,0.09,0.1,0.2,0.3,0.4,0.5,0.6,0.7,0.8,0.9,1,2,3,4,5,6,7,8,9,10], "labels": false, "tickSize": 9, "tickWidth": 1.5, "title": null,
     "encode": {"ticks": {"update": {"x2": {"signal": "abs(log(datum.value)/LN10 - round(log(datum.value)/LN10)) < 1e-6 ? -9 : -5"}}}}}}
   }
  },
  {
   "data": {"values": [{}]},
   "mark": {"type": "text", "text": "イノシシ", "align": "left", "baseline": "middle", "font": "Noto Sans CJK JP", "fontSize": 24, "fontWeight": "bold", "color": "black"},
   "encoding": {"x": {"datum": 2014.03, "type": "quantitative", "axis": null}, "y": {"datum": 2.3, "type": "quantitative", "axis": null}}
  },
  {
   "data": {"values": [{}]},
   "mark": {"type": "text", "text": "ag", "angle": 270, "align": "center", "baseline": "middle", "font": "Noto Sans", "fontSize": 17, "color": "black"},
   "encoding": {"x": {"datum": 2011.55, "type": "quantitative", "axis": null}, "y": {"datum": 0.0048, "type": "quantitative", "axis": null}}
  }
 ]
},
{
 "width": 603, "height": 385,
 "data": {"name": "p2"},
 "layer": [
  {
   "mark": {"type": "point"},
   "encoding": {
    "x": {"field": "t", "type": "quantitative", "scale": {"domain": [2012, 2017], "nice": false, "zero": false},
     "axis": {"orient": "bottom", "values": [2012, 2013, 2014, 2015, 2016, 2017], "format": "d", "labelFlush": false, "labelOffset": -6, "tickSize": 9, "tickWidth": 2, "labelPadding": -3, "title": "Sampling date", "titleFontSize": 24, "titlePadding": 22, "encode": {"ticks": {"update": {"y2": {"value": -9}}}}}},
    "y": {"field": "v", "type": "quantitative", "scale": {"type": "log", "domain": [1e-6, 10], "nice": false},
     "axis": {"orient": "left", "values": [1e-6,2e-6,3e-6,4e-6,5e-6,6e-6,7e-6,8e-6,9e-6,1e-5,2e-5,3e-5,4e-5,5e-5,6e-5,7e-5,8e-5,9e-5,1e-4,2e-4,3e-4,4e-4,5e-4,6e-4,7e-4,8e-4,9e-4,1e-3,2e-3,3e-3,4e-3,5e-3,6e-3,7e-3,8e-3,9e-3,0.01,0.02,0.03,0.04,0.05,0.06,0.07,0.08,0.09,0.1,0.2,0.3,0.4,0.5,0.6,0.7,0.8,0.9,1,2,3,4,5,6,7,8,9,10],
      "labelExpr": "abs(log(datum.value)/LN10 - round(log(datum.value)/LN10)) < 1e-6 ? '10' + ['⁻⁶','⁻⁵','⁻⁴','⁻³','⁻²','⁻¹','⁰','¹'][round(log(datum.value)/LN10) + 6] : ''",
      "tickSize": 9, "tickWidth": 1.5, "labelPadding": -1, "title": "T", "titleFontSize": 26, "titlePadding": 20,
      "encode": {"ticks": {"update": {"x2": {"signal": "abs(log(datum.value)/LN10 - round(log(datum.value)/LN10)) < 1e-6 ? 9 : 5"}}}}}},
    "color": {"field": "s", "type": "nominal", "scale": {"domain": ["s-岩手", "s-群馬", "s-栃木", "s-宮城", "s-福島"], "range": ["#000000", "#3F4FA8", "#1E8A44", "#E8222B", "#F7941D"]},
     "legend": {"orient": "none", "legendX": 5, "legendY": -46, "direction": "horizontal", "columns": 5, "title": " ", "titleOrient": "left", "titleFontSize": 8, "titlePadding": 14, "symbolType": "circle", "symbolSize": 30, "symbolStrokeWidth": 1, "labelFont": "Noto Sans CJK JP", "labelFontSize": 15, "labelOffset": 23, "columnPadding": 39, "padding": 10, "strokeColor": "#333333", "fillColor": "white",
      "encode": {"labels": {"update": {"fill": {"signal": "['#000000','#3F4FA8','#1E8A44','#E8222B','#F7941D'][indexof(['s-岩手','s-群馬','s-栃木','s-宮城','s-福島'], datum.value)]"}}}, "legend": {"update": {"strokeWidth": {"value": 2}}}}}}
   }
  },
  {
   "transform": [{"filter": "datum.t > 3000"}],
   "mark": {"type": "point", "opacity": 0},
   "encoding": {
    "x": {"field": "t", "type": "quantitative", "axis": {"orient": "top", "values": [2012, 2013, 2014, 2015, 2016, 2017], "labels": false, "tickSize": 9, "tickWidth": 2, "title": null, "encode": {"ticks": {"update": {"y2": {"value": 9}}}}}},
    "y": {"field": "v", "type": "quantitative", "scale": {"type": "log"}, "axis": {"orient": "right", "values": [1e-6,2e-6,3e-6,4e-6,5e-6,6e-6,7e-6,8e-6,9e-6,1e-5,2e-5,3e-5,4e-5,5e-5,6e-5,7e-5,8e-5,9e-5,1e-4,2e-4,3e-4,4e-4,5e-4,6e-4,7e-4,8e-4,9e-4,1e-3,2e-3,3e-3,4e-3,5e-3,6e-3,7e-3,8e-3,9e-3,0.01,0.02,0.03,0.04,0.05,0.06,0.07,0.08,0.09,0.1,0.2,0.3,0.4,0.5,0.6,0.7,0.8,0.9,1,2,3,4,5,6,7,8,9,10], "labels": false, "tickSize": 9, "tickWidth": 1.5, "title": null,
     "encode": {"ticks": {"update": {"x2": {"signal": "abs(log(datum.value)/LN10 - round(log(datum.value)/LN10)) < 1e-6 ? -9 : -5"}}}}}}
   }
  },
  {
   "data": {"values": [{}]},
   "mark": {"type": "text", "text": "ニホンジカ", "align": "left", "baseline": "middle", "font": "Noto Sans CJK JP", "fontSize": 24, "fontWeight": "bold", "color": "black"},
   "encoding": {"x": {"datum": 2014.03, "type": "quantitative", "axis": null}, "y": {"datum": 2.6, "type": "quantitative", "axis": null}}
  },
  {
   "data": {"values": [{}]},
   "mark": {"type": "text", "text": "ag", "angle": 270, "align": "center", "baseline": "middle", "font": "Noto Sans", "fontSize": 17, "color": "black"},
   "encoding": {"x": {"datum": 2011.55, "type": "quantitative", "axis": null}, "y": {"datum": 0.0048, "type": "quantitative", "axis": null}}
  }
 ]
},
{
 "width": 603, "height": 385,
 "data": {"name": "p3"},
 "layer": [
  {
   "mark": {"type": "point"},
   "encoding": {
    "x": {"field": "t", "type": "quantitative", "scale": {"domain": [2012, 2017], "nice": false, "zero": false},
     "axis": {"orient": "bottom", "values": [2012, 2013, 2014, 2015, 2016, 2017], "format": "d", "labelFlush": false, "labelOffset": -6, "tickSize": 9, "tickWidth": 2, "labelPadding": -3, "title": "Sampling date", "titleFontSize": 24, "titlePadding": 22, "encode": {"ticks": {"update": {"y2": {"value": -9}}}}}},
    "y": {"field": "v", "type": "quantitative", "scale": {"type": "log", "domain": [1e-6, 10], "nice": false},
     "axis": {"orient": "left", "values": [1e-6,2e-6,3e-6,4e-6,5e-6,6e-6,7e-6,8e-6,9e-6,1e-5,2e-5,3e-5,4e-5,5e-5,6e-5,7e-5,8e-5,9e-5,1e-4,2e-4,3e-4,4e-4,5e-4,6e-4,7e-4,8e-4,9e-4,1e-3,2e-3,3e-3,4e-3,5e-3,6e-3,7e-3,8e-3,9e-3,0.01,0.02,0.03,0.04,0.05,0.06,0.07,0.08,0.09,0.1,0.2,0.3,0.4,0.5,0.6,0.7,0.8,0.9,1,2,3,4,5,6,7,8,9,10],
      "labelExpr": "abs(log(datum.value)/LN10 - round(log(datum.value)/LN10)) < 1e-6 ? '10' + ['⁻⁶','⁻⁵','⁻⁴','⁻³','⁻²','⁻¹','⁰','¹'][round(log(datum.value)/LN10) + 6] : ''",
      "tickSize": 9, "tickWidth": 1.5, "labelPadding": -1, "title": "T", "titleFontSize": 26, "titlePadding": 20,
      "encode": {"ticks": {"update": {"x2": {"signal": "abs(log(datum.value)/LN10 - round(log(datum.value)/LN10)) < 1e-6 ? 9 : 5"}}}}}},
    "color": {"field": "s", "type": "nominal", "scale": {"domain": ["b-岩手", "b-宮城", "b-群馬", " ", "b-福島"], "range": ["#000000", "#3F4FA8", "#1E8A44", "rgba(0,0,0,0)", "#F7941D"]},
     "legend": {"orient": "none", "legendX": 5, "legendY": -46, "direction": "horizontal", "columns": 5, "title": " ", "titleOrient": "left", "titleFontSize": 8, "titlePadding": 14, "symbolType": "circle", "symbolSize": 30, "symbolStrokeWidth": 1, "labelFont": "Noto Sans CJK JP", "labelFontSize": 15, "labelOffset": 23, "columnPadding": 49, "padding": 10, "strokeColor": "#333333", "fillColor": "white",
      "encode": {"labels": {"update": {"fill": {"signal": "['#000000','#3F4FA8','#1E8A44','#FFFFFF','#F7941D'][indexof(['b-岩手','b-宮城','b-群馬',' ','b-福島'], datum.value)]"}}}, "legend": {"update": {"strokeWidth": {"value": 2}}}}}}
   }
  },
  {
   "transform": [{"filter": "datum.t > 3000"}],
   "mark": {"type": "point", "opacity": 0},
   "encoding": {
    "x": {"field": "t", "type": "quantitative", "axis": {"orient": "top", "values": [2012, 2013, 2014, 2015, 2016, 2017], "labels": false, "tickSize": 9, "tickWidth": 2, "title": null, "encode": {"ticks": {"update": {"y2": {"value": 9}}}}}},
    "y": {"field": "v", "type": "quantitative", "scale": {"type": "log"}, "axis": {"orient": "right", "values": [1e-6,2e-6,3e-6,4e-6,5e-6,6e-6,7e-6,8e-6,9e-6,1e-5,2e-5,3e-5,4e-5,5e-5,6e-5,7e-5,8e-5,9e-5,1e-4,2e-4,3e-4,4e-4,5e-4,6e-4,7e-4,8e-4,9e-4,1e-3,2e-3,3e-3,4e-3,5e-3,6e-3,7e-3,8e-3,9e-3,0.01,0.02,0.03,0.04,0.05,0.06,0.07,0.08,0.09,0.1,0.2,0.3,0.4,0.5,0.6,0.7,0.8,0.9,1,2,3,4,5,6,7,8,9,10], "labels": false, "tickSize": 9, "tickWidth": 1.5, "title": null,
     "encode": {"ticks": {"update": {"x2": {"signal": "abs(log(datum.value)/LN10 - round(log(datum.value)/LN10)) < 1e-6 ? -9 : -5"}}}}}}
   }
  },
  {
   "data": {"values": [{}]},
   "mark": {"type": "text", "text": "ツキノワグマ", "align": "left", "baseline": "middle", "font": "Noto Sans CJK JP", "fontSize": 24, "fontWeight": "bold", "color": "black"},
   "encoding": {"x": {"datum": 2014.01, "type": "quantitative", "axis": null}, "y": {"datum": 2.6, "type": "quantitative", "axis": null}}
  },
  {
   "data": {"values": [{}]},
   "mark": {"type": "text", "text": "ag", "angle": 270, "align": "center", "baseline": "middle", "font": "Noto Sans", "fontSize": 17, "color": "black"},
   "encoding": {"x": {"datum": 2011.55, "type": "quantitative", "axis": null}, "y": {"datum": 0.0048, "type": "quantitative", "axis": null}}
  }
 ]
}
]
}
